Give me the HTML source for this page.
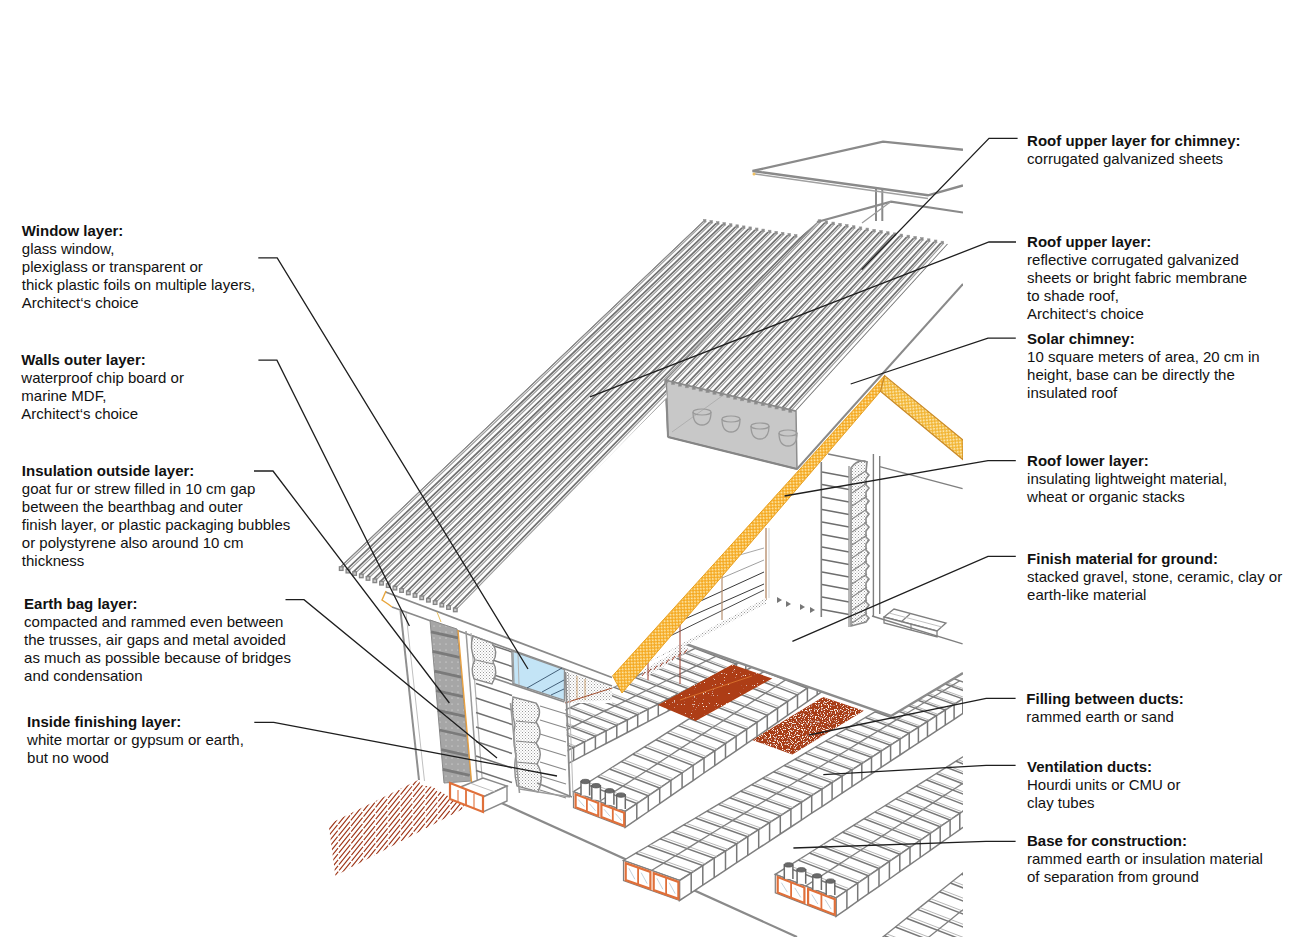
<!DOCTYPE html>
<html><head><meta charset="utf-8"><style>
html,body{margin:0;padding:0;background:#fff;width:1300px;height:950px;overflow:hidden;}
.t{position:absolute;font-family:"Liberation Sans",sans-serif;font-size:15px;line-height:18px;color:#111;white-space:nowrap;}
.t b{font-weight:bold;}
</style></head><body>
<svg width="1300" height="950" style="position:absolute;left:0;top:0"><defs>
<pattern id="hatch" patternUnits="userSpaceOnUse" width="6" height="6.1" patternTransform="rotate(-43)">
  <rect width="6" height="6.1" fill="#fff"/>
  <rect x="0" y="0" width="6" height="1.3" fill="#6c6c6c"/>
  <rect x="0" y="1.9" width="6" height="0.7" fill="#a8a8a8"/>
  <rect x="0" y="3.05" width="6" height="1.3" fill="#767676"/>
  <rect x="0" y="4.95" width="6" height="0.7" fill="#b0b0b0"/>
</pattern>
<pattern id="redhatch" patternUnits="userSpaceOnUse" width="4.4" height="6" patternTransform="rotate(-33)">
  <rect x="0" y="0" width="1.3" height="4.6" fill="#b4461e"/>
</pattern>
<pattern id="dots" patternUnits="userSpaceOnUse" width="4.4" height="4.4" patternTransform="rotate(-47)">
  <rect width="4.4" height="4.4" fill="#f5a820"/>
  <circle cx="1.1" cy="1.1" r="1.0" fill="#fde7a8"/>
  <circle cx="3.3" cy="3.3" r="1.0" fill="#fde7a8"/>
</pattern>
<pattern id="dots2" patternUnits="userSpaceOnUse" width="4.4" height="4.4" patternTransform="rotate(40)">
  <rect width="4.4" height="4.4" fill="#f2b432"/>
  <circle cx="1.1" cy="1.1" r="1.0" fill="#fce9b4"/>
  <circle cx="3.3" cy="3.3" r="1.0" fill="#fce9b4"/>
</pattern>
<pattern id="speck" patternUnits="userSpaceOnUse" width="4" height="4">
  <rect width="4" height="4" fill="#a83d18"/>
  <circle cx="1" cy="1" r="0.6" fill="#f3d2c0"/>
  <circle cx="3" cy="2.6" r="0.5" fill="#f3d2c0"/>
</pattern>
<pattern id="solidrust" patternUnits="userSpaceOnUse" width="9" height="9">
  <rect width="9" height="9" fill="#b0401a"/>
  <circle cx="2" cy="3" r="0.45" fill="#f2c9b0"/>
</pattern>
<pattern id="stip" patternUnits="userSpaceOnUse" width="3" height="3">
  <rect width="3" height="3" fill="#fff"/>
  <rect x="0" y="0" width="1" height="1" fill="#9a9a9a"/>
  <rect x="1.5" y="1.5" width="1" height="1" fill="#b0b0b0"/>
</pattern>
<pattern id="graycol" patternUnits="userSpaceOnUse" width="6" height="6">
  <rect width="6" height="6" fill="#a6a6a6"/>
  <circle cx="2" cy="2" r="0.6" fill="#e8e8e8"/>
</pattern>
<filter id="speckf" x="0" y="0" width="100%" height="100%" filterUnits="objectBoundingBox">
  <feTurbulence type="fractalNoise" baseFrequency="0.85" numOctaves="1" seed="3" result="n"/>
  <feColorMatrix in="n" type="matrix" values="0 0 0 0 1  0 0 0 0 0.93  0 0 0 0 0.85  0 0 0 9 -5.0" result="w"/>
  <feComposite in="w" in2="SourceGraphic" operator="in" result="wc"/>
  <feMerge><feMergeNode in="SourceGraphic"/><feMergeNode in="wc"/></feMerge>
</filter>
<filter id="speckf2" x="0" y="0" width="100%" height="100%" filterUnits="objectBoundingBox">
  <feTurbulence type="fractalNoise" baseFrequency="0.9" numOctaves="1" seed="7" result="n"/>
  <feColorMatrix in="n" type="matrix" values="0 0 0 0 1  0 0 0 0 0.9  0 0 0 0 0.8  0 0 0 14 -9.6" result="w"/>
  <feComposite in="w" in2="SourceGraphic" operator="in" result="wc"/>
  <feMerge><feMergeNode in="SourceGraphic"/><feMergeNode in="wc"/></feMerge>
</filter>
<clipPath id="drawclip"><rect x="0" y="0" width="963" height="937"/></clipPath>
</defs>
<g clip-path="url(#drawclip)">
<line x1="497.0" y1="801.0" x2="797.0" y2="937.0" stroke="#8a8a8a" stroke-width="2.2" />
<polygon points="862.4,953.4 924.4,977.4 935.4,968.6 946.4,959.8 957.4,951.0 968.4,942.2 979.4,933.4 990.4,924.6 1001.4,915.8 1012.4,907.0 1023.4,898.2 1034.4,889.4 1045.4,880.6 1056.4,871.8 994.4,847.8 983.4,856.6 972.4,865.4 961.4,874.2 950.4,883.0 939.4,891.8 928.4,900.6 917.4,909.4 906.4,918.2 895.4,927.0 884.4,935.8 873.4,944.6" fill="#fff" stroke="#7f7f7f" stroke-width="1.4" />
<polygon points="924.4,977.4 935.4,968.6 946.4,959.8 957.4,951.0 968.4,942.2 979.4,933.4 990.4,924.6 1001.4,915.8 1012.4,907.0 1023.4,898.2 1034.4,889.4 1045.4,880.6 1056.4,871.8 1056.4,888.8 1045.4,897.6 1034.4,906.4 1023.4,915.2 1012.4,924.0 1001.4,932.8 990.4,941.6 979.4,950.4 968.4,959.2 957.4,968.0 946.4,976.8 935.4,985.6 924.4,994.4" fill="#fff" stroke="#7f7f7f" stroke-width="1.5" />
<polyline points="873.4,944.6 935.4,968.6 935.4,985.6" fill="none" stroke="#787878" stroke-width="1.5" />
<line x1="875.8" y1="942.7" x2="937.8" y2="966.7" stroke="#b0b0b0" stroke-width="0.9" />
<polyline points="884.4,935.8 946.4,959.8 946.4,976.8" fill="none" stroke="#787878" stroke-width="1.5" />
<line x1="886.8" y1="933.9" x2="948.8" y2="957.9" stroke="#b0b0b0" stroke-width="0.9" />
<polyline points="895.4,927.0 957.4,951.0 957.4,968.0" fill="none" stroke="#787878" stroke-width="1.5" />
<line x1="897.8" y1="925.1" x2="959.8" y2="949.1" stroke="#b0b0b0" stroke-width="0.9" />
<polyline points="906.4,918.2 968.4,942.2 968.4,959.2" fill="none" stroke="#787878" stroke-width="1.5" />
<line x1="908.8" y1="916.3" x2="970.8" y2="940.3" stroke="#b0b0b0" stroke-width="0.9" />
<polyline points="917.4,909.4 979.4,933.4 979.4,950.4" fill="none" stroke="#787878" stroke-width="1.5" />
<line x1="919.8" y1="907.5" x2="981.8" y2="931.5" stroke="#b0b0b0" stroke-width="0.9" />
<polyline points="928.4,900.6 990.4,924.6 990.4,941.6" fill="none" stroke="#787878" stroke-width="1.5" />
<line x1="930.8" y1="898.7" x2="992.8" y2="922.7" stroke="#b0b0b0" stroke-width="0.9" />
<polyline points="939.4,891.8 1001.4,915.8 1001.4,932.8" fill="none" stroke="#787878" stroke-width="1.5" />
<line x1="941.8" y1="889.9" x2="1003.8" y2="913.9" stroke="#b0b0b0" stroke-width="0.9" />
<polyline points="950.4,883.0 1012.4,907.0 1012.4,924.0" fill="none" stroke="#787878" stroke-width="1.5" />
<line x1="952.8" y1="881.1" x2="1014.8" y2="905.1" stroke="#b0b0b0" stroke-width="0.9" />
<polyline points="961.4,874.2 1023.4,898.2 1023.4,915.2" fill="none" stroke="#787878" stroke-width="1.5" />
<line x1="963.8" y1="872.3" x2="1025.8" y2="896.3" stroke="#b0b0b0" stroke-width="0.9" />
<polyline points="972.4,865.4 1034.4,889.4 1034.4,906.4" fill="none" stroke="#787878" stroke-width="1.5" />
<line x1="974.8" y1="863.5" x2="1036.8" y2="887.5" stroke="#b0b0b0" stroke-width="0.9" />
<polyline points="983.4,856.6 1045.4,880.6 1045.4,897.6" fill="none" stroke="#787878" stroke-width="1.5" />
<line x1="985.8" y1="854.7" x2="1047.8" y2="878.7" stroke="#b0b0b0" stroke-width="0.9" />
<polyline points="893.4,965.4 904.4,956.6 915.4,947.8 926.4,939.0 937.4,930.2 948.4,921.4 959.4,912.6 970.4,903.8 981.4,895.0 992.4,886.2 1003.4,877.4 1014.4,868.6 1025.4,859.8" fill="none" stroke="#808080" stroke-width="1.3" />
<polygon points="775.3,874.4 836.0,897.9 846.9,890.5 857.7,883.1 868.4,875.8 879.0,868.6 889.4,861.4 899.8,854.3 910.0,847.3 920.2,840.4 930.3,833.5 940.2,826.7 950.1,820.0 959.8,813.3 969.5,806.7 979.1,800.2 988.5,793.7 997.9,787.3 1007.2,781.0 1016.4,774.7 1025.5,768.5 1034.5,762.3 984.8,743.1 975.3,749.1 965.7,755.1 956.0,761.2 946.2,767.3 936.3,773.5 926.3,779.8 916.2,786.1 906.0,792.5 895.7,798.9 885.3,805.5 874.8,812.0 864.2,818.7 853.5,825.4 842.6,832.2 831.7,839.1 820.6,846.0 809.5,853.0 798.2,860.1 786.8,867.2" fill="#fff" stroke="#7f7f7f" stroke-width="1.4" />
<polygon points="836.0,897.9 846.9,890.5 857.7,883.1 868.4,875.8 879.0,868.6 889.4,861.4 899.8,854.3 910.0,847.3 920.2,840.4 930.3,833.5 940.2,826.7 950.1,820.0 959.8,813.3 969.5,806.7 979.1,800.2 988.5,793.7 997.9,787.3 1007.2,781.0 1016.4,774.7 1025.5,768.5 1034.5,762.3 1034.5,777.5 1025.5,783.8 1016.4,790.1 1007.2,796.6 997.9,803.1 988.5,809.6 979.1,816.3 969.5,822.9 959.8,829.7 950.1,836.5 940.2,843.4 930.3,850.4 920.2,857.5 910.0,864.6 899.8,871.7 889.4,879.0 879.0,886.3 868.4,893.7 857.7,901.2 846.9,908.8 836.0,916.4" fill="#fff" stroke="#7f7f7f" stroke-width="1.5" />
<polygon points="775.3,874.4 836.0,897.9 836.0,916.4 775.3,892.9" fill="#fff" stroke="#7f7f7f" stroke-width="1.2" />
<polyline points="786.8,867.2 846.9,890.5 846.9,908.8" fill="none" stroke="#787878" stroke-width="1.5" />
<line x1="789.2" y1="865.5" x2="849.3" y2="888.8" stroke="#b0b0b0" stroke-width="0.9" />
<polyline points="798.2,860.1 857.7,883.1 857.7,901.2" fill="none" stroke="#787878" stroke-width="1.5" />
<line x1="800.5" y1="858.4" x2="860.0" y2="881.4" stroke="#b0b0b0" stroke-width="0.9" />
<polyline points="809.5,853.0 868.4,875.8 868.4,893.7" fill="none" stroke="#787878" stroke-width="1.5" />
<line x1="811.8" y1="851.4" x2="870.7" y2="874.2" stroke="#b0b0b0" stroke-width="0.9" />
<polyline points="820.6,846.0 879.0,868.6 879.0,886.3" fill="none" stroke="#787878" stroke-width="1.5" />
<line x1="822.9" y1="844.4" x2="881.3" y2="867.0" stroke="#b0b0b0" stroke-width="0.9" />
<polyline points="831.7,839.1 889.4,861.4 889.4,879.0" fill="none" stroke="#787878" stroke-width="1.5" />
<line x1="834.0" y1="837.5" x2="891.7" y2="859.8" stroke="#b0b0b0" stroke-width="0.9" />
<polyline points="842.6,832.2 899.8,854.3 899.8,871.7" fill="none" stroke="#787878" stroke-width="1.5" />
<line x1="844.9" y1="830.6" x2="902.0" y2="852.8" stroke="#b0b0b0" stroke-width="0.9" />
<polyline points="853.5,825.4 910.0,847.3 910.0,864.6" fill="none" stroke="#787878" stroke-width="1.5" />
<line x1="855.7" y1="823.9" x2="912.3" y2="845.8" stroke="#b0b0b0" stroke-width="0.9" />
<polyline points="864.2,818.7 920.2,840.4 920.2,857.5" fill="none" stroke="#787878" stroke-width="1.5" />
<line x1="866.4" y1="817.2" x2="922.4" y2="838.8" stroke="#b0b0b0" stroke-width="0.9" />
<polyline points="874.8,812.0 930.3,833.5 930.3,850.4" fill="none" stroke="#787878" stroke-width="1.5" />
<line x1="877.0" y1="810.5" x2="932.5" y2="832.0" stroke="#b0b0b0" stroke-width="0.9" />
<polyline points="885.3,805.5 940.2,826.7 940.2,843.4" fill="none" stroke="#787878" stroke-width="1.5" />
<line x1="887.5" y1="803.9" x2="942.4" y2="825.2" stroke="#b0b0b0" stroke-width="0.9" />
<polyline points="895.7,798.9 950.1,820.0 950.1,836.5" fill="none" stroke="#787878" stroke-width="1.5" />
<line x1="897.9" y1="797.4" x2="952.2" y2="818.5" stroke="#b0b0b0" stroke-width="0.9" />
<polyline points="906.0,792.5 959.8,813.3 959.8,829.7" fill="none" stroke="#787878" stroke-width="1.5" />
<line x1="908.2" y1="791.0" x2="962.0" y2="811.8" stroke="#b0b0b0" stroke-width="0.9" />
<polyline points="916.2,786.1 969.5,806.7 969.5,822.9" fill="none" stroke="#787878" stroke-width="1.5" />
<line x1="918.3" y1="784.6" x2="971.6" y2="805.2" stroke="#b0b0b0" stroke-width="0.9" />
<polyline points="926.3,779.8 979.1,800.2 979.1,816.3" fill="none" stroke="#787878" stroke-width="1.5" />
<line x1="928.4" y1="778.3" x2="981.2" y2="798.7" stroke="#b0b0b0" stroke-width="0.9" />
<polyline points="936.3,773.5 988.5,793.7 988.5,809.6" fill="none" stroke="#787878" stroke-width="1.5" />
<line x1="938.4" y1="772.1" x2="990.6" y2="792.3" stroke="#b0b0b0" stroke-width="0.9" />
<polyline points="946.2,767.3 997.9,787.3 997.9,803.1" fill="none" stroke="#787878" stroke-width="1.5" />
<line x1="948.3" y1="765.9" x2="1000.0" y2="785.9" stroke="#b0b0b0" stroke-width="0.9" />
<polyline points="956.0,761.2 1007.2,781.0 1007.2,796.6" fill="none" stroke="#787878" stroke-width="1.5" />
<line x1="958.0" y1="759.7" x2="1009.2" y2="779.6" stroke="#b0b0b0" stroke-width="0.9" />
<polyline points="965.7,755.1 1016.4,774.7 1016.4,790.1" fill="none" stroke="#787878" stroke-width="1.5" />
<line x1="967.7" y1="753.7" x2="1018.4" y2="773.3" stroke="#b0b0b0" stroke-width="0.9" />
<polyline points="975.3,749.1 1025.5,768.5 1025.5,783.8" fill="none" stroke="#787878" stroke-width="1.5" />
<line x1="977.3" y1="747.7" x2="1027.5" y2="767.1" stroke="#b0b0b0" stroke-width="0.9" />
<polyline points="805.6,886.1 816.9,878.8 827.9,871.6 838.9,864.4 849.8,857.3 860.6,850.2 871.2,843.3 881.8,836.4 892.2,829.5 902.5,822.8 912.8,816.1 922.9,809.5 932.9,802.9 942.9,796.4 952.7,790.0 962.4,783.6 972.1,777.3 981.6,771.1 991.1,764.9 1000.4,758.8 1009.7,752.7" fill="none" stroke="#808080" stroke-width="1.3" />
<polygon points="777.7,877.1 804.4,887.5 804.4,903.0 777.7,892.6" fill="none" stroke="#e0703a" stroke-width="2.2" />
<line x1="791.1" y1="882.3" x2="791.1" y2="897.8" stroke="#e0703a" stroke-width="1.8" />
<line x1="781.4" y1="882.7" x2="787.4" y2="892.2" stroke="#9ab0c0" stroke-width="0.6" />
<line x1="794.8" y1="887.9" x2="800.8" y2="897.4" stroke="#9ab0c0" stroke-width="0.6" />
<polygon points="808.1,888.9 834.8,899.2 834.8,914.7 808.1,904.4" fill="none" stroke="#e0703a" stroke-width="2.2" />
<line x1="821.4" y1="894.1" x2="821.4" y2="909.6" stroke="#e0703a" stroke-width="1.8" />
<line x1="811.8" y1="894.5" x2="817.8" y2="904.0" stroke="#9ab0c0" stroke-width="0.6" />
<line x1="825.1" y1="899.6" x2="831.1" y2="909.1" stroke="#9ab0c0" stroke-width="0.6" />
<path d="M784.3,878.9 V864.9 H792.9 V878.9" fill="#fff" stroke="#6a6a6a" stroke-width="1.5"/>
<ellipse cx="788.6" cy="864.9" rx="4.3" ry="2.2" fill="#6a6a6a" stroke="#555" stroke-width="0.8"/>
<path d="M797.1,883.8 V869.8 H805.7 V883.8" fill="#fff" stroke="#6a6a6a" stroke-width="1.5"/>
<ellipse cx="801.4" cy="869.8" rx="4.3" ry="2.2" fill="#6a6a6a" stroke="#555" stroke-width="0.8"/>
<path d="M812.8,889.9 V875.9 H821.4 V889.9" fill="#fff" stroke="#6a6a6a" stroke-width="1.5"/>
<ellipse cx="817.1" cy="875.9" rx="4.3" ry="2.2" fill="#6a6a6a" stroke="#555" stroke-width="0.8"/>
<path d="M826.2,895.1 V881.1 H834.8 V895.1" fill="#fff" stroke="#6a6a6a" stroke-width="1.5"/>
<ellipse cx="830.5" cy="881.1" rx="4.3" ry="2.2" fill="#6a6a6a" stroke="#555" stroke-width="0.8"/>
<polygon points="623.5,860.5 679.5,880.5 691.2,873.0 702.8,865.6 714.2,858.2 725.5,851.0 736.7,843.8 747.8,836.7 758.7,829.7 769.6,822.7 780.3,815.9 790.9,809.1 801.4,802.4 811.7,795.7 822.0,789.2 832.1,782.7 842.1,776.2 852.0,769.9 861.8,763.6 871.5,757.4 881.1,751.2 890.6,745.2 900.0,739.1 909.2,733.2 918.4,727.3 927.5,721.5 936.5,715.7 945.3,710.0 954.1,704.4 962.8,698.9 971.4,693.4 979.9,687.9 939.7,673.6 930.7,678.8 921.7,684.2 912.6,689.6 903.3,695.0 894.0,700.6 884.5,706.2 875.0,711.8 865.3,717.5 855.6,723.3 845.7,729.1 835.7,735.0 825.6,741.0 815.4,747.0 805.1,753.1 794.7,759.3 784.1,765.5 773.5,771.8 762.7,778.2 751.8,784.7 740.7,791.2 729.6,797.8 718.3,804.4 706.9,811.2 695.4,818.0 683.7,824.9 672.0,831.8 660.0,838.9 648.0,846.0 635.8,853.2" fill="#fff" stroke="#7f7f7f" stroke-width="1.4" />
<polygon points="679.5,880.5 691.2,873.0 702.8,865.6 714.2,858.2 725.5,851.0 736.7,843.8 747.8,836.7 758.7,829.7 769.6,822.7 780.3,815.9 790.9,809.1 801.4,802.4 811.7,795.7 822.0,789.2 832.1,782.7 842.1,776.2 852.0,769.9 861.8,763.6 871.5,757.4 881.1,751.2 890.6,745.2 900.0,739.1 909.2,733.2 918.4,727.3 927.5,721.5 936.5,715.7 945.3,710.0 954.1,704.4 962.8,698.9 971.4,693.4 979.9,687.9 979.9,702.3 971.4,707.9 962.8,713.5 954.1,719.3 945.3,725.1 936.5,730.9 927.5,736.8 918.4,742.8 909.2,748.9 900.0,755.0 890.6,761.2 881.1,767.4 871.5,773.8 861.8,780.2 852.0,786.6 842.1,793.2 832.1,799.8 822.0,806.5 811.7,813.2 801.4,820.1 790.9,827.0 780.3,834.0 769.6,841.1 758.7,848.2 747.8,855.4 736.7,862.7 725.5,870.1 714.2,877.6 702.8,885.1 691.2,892.8 679.5,900.5" fill="#fff" stroke="#7f7f7f" stroke-width="1.5" />
<polygon points="623.5,860.5 679.5,880.5 679.5,900.5 623.5,880.5" fill="#fff" stroke="#7f7f7f" stroke-width="1.2" />
<polyline points="635.8,853.2 691.2,873.0 691.2,892.8" fill="none" stroke="#787878" stroke-width="1.5" />
<line x1="638.4" y1="851.5" x2="693.7" y2="871.3" stroke="#b0b0b0" stroke-width="0.9" />
<polyline points="648.0,846.0 702.8,865.6 702.8,885.1" fill="none" stroke="#787878" stroke-width="1.5" />
<line x1="650.5" y1="844.4" x2="705.3" y2="863.9" stroke="#b0b0b0" stroke-width="0.9" />
<polyline points="660.0,838.9 714.2,858.2 714.2,877.6" fill="none" stroke="#787878" stroke-width="1.5" />
<line x1="662.5" y1="837.3" x2="716.7" y2="856.6" stroke="#b0b0b0" stroke-width="0.9" />
<polyline points="672.0,831.8 725.5,851.0 725.5,870.1" fill="none" stroke="#787878" stroke-width="1.5" />
<line x1="674.4" y1="830.2" x2="728.0" y2="849.4" stroke="#b0b0b0" stroke-width="0.9" />
<polyline points="683.7,824.9 736.7,843.8 736.7,862.7" fill="none" stroke="#787878" stroke-width="1.5" />
<line x1="686.2" y1="823.3" x2="739.2" y2="842.2" stroke="#b0b0b0" stroke-width="0.9" />
<polyline points="695.4,818.0 747.8,836.7 747.8,855.4" fill="none" stroke="#787878" stroke-width="1.5" />
<line x1="697.8" y1="816.4" x2="750.2" y2="835.1" stroke="#b0b0b0" stroke-width="0.9" />
<polyline points="706.9,811.2 758.7,829.7 758.7,848.2" fill="none" stroke="#787878" stroke-width="1.5" />
<line x1="709.3" y1="809.6" x2="761.1" y2="828.1" stroke="#b0b0b0" stroke-width="0.9" />
<polyline points="718.3,804.4 769.6,822.7 769.6,841.1" fill="none" stroke="#787878" stroke-width="1.5" />
<line x1="720.7" y1="802.9" x2="771.9" y2="821.2" stroke="#b0b0b0" stroke-width="0.9" />
<polyline points="729.6,797.8 780.3,815.9 780.3,834.0" fill="none" stroke="#787878" stroke-width="1.5" />
<line x1="731.9" y1="796.2" x2="782.6" y2="814.3" stroke="#b0b0b0" stroke-width="0.9" />
<polyline points="740.7,791.2 790.9,809.1 790.9,827.0" fill="none" stroke="#787878" stroke-width="1.5" />
<line x1="743.0" y1="789.7" x2="793.2" y2="807.6" stroke="#b0b0b0" stroke-width="0.9" />
<polyline points="751.8,784.7 801.4,802.4 801.4,820.1" fill="none" stroke="#787878" stroke-width="1.5" />
<line x1="754.0" y1="783.2" x2="803.6" y2="800.9" stroke="#b0b0b0" stroke-width="0.9" />
<polyline points="762.7,778.2 811.7,795.7 811.7,813.2" fill="none" stroke="#787878" stroke-width="1.5" />
<line x1="764.9" y1="776.7" x2="814.0" y2="794.2" stroke="#b0b0b0" stroke-width="0.9" />
<polyline points="773.5,771.8 822.0,789.2 822.0,806.5" fill="none" stroke="#787878" stroke-width="1.5" />
<line x1="775.7" y1="770.4" x2="824.2" y2="787.7" stroke="#b0b0b0" stroke-width="0.9" />
<polyline points="784.1,765.5 832.1,782.7 832.1,799.8" fill="none" stroke="#787878" stroke-width="1.5" />
<line x1="786.3" y1="764.1" x2="834.3" y2="781.2" stroke="#b0b0b0" stroke-width="0.9" />
<polyline points="794.7,759.3 842.1,776.2 842.1,793.2" fill="none" stroke="#787878" stroke-width="1.5" />
<line x1="796.9" y1="757.9" x2="844.3" y2="774.8" stroke="#b0b0b0" stroke-width="0.9" />
<polyline points="805.1,753.1 852.0,769.9 852.0,786.6" fill="none" stroke="#787878" stroke-width="1.5" />
<line x1="807.3" y1="751.7" x2="854.2" y2="768.5" stroke="#b0b0b0" stroke-width="0.9" />
<polyline points="815.4,747.0 861.8,763.6 861.8,780.2" fill="none" stroke="#787878" stroke-width="1.5" />
<line x1="817.6" y1="745.6" x2="864.0" y2="762.2" stroke="#b0b0b0" stroke-width="0.9" />
<polyline points="825.6,741.0 871.5,757.4 871.5,773.8" fill="none" stroke="#787878" stroke-width="1.5" />
<line x1="827.7" y1="739.6" x2="873.6" y2="756.0" stroke="#b0b0b0" stroke-width="0.9" />
<polyline points="835.7,735.0 881.1,751.2 881.1,767.4" fill="none" stroke="#787878" stroke-width="1.5" />
<line x1="837.8" y1="733.6" x2="883.2" y2="749.9" stroke="#b0b0b0" stroke-width="0.9" />
<polyline points="845.7,729.1 890.6,745.2 890.6,761.2" fill="none" stroke="#787878" stroke-width="1.5" />
<line x1="847.8" y1="727.8" x2="892.7" y2="743.8" stroke="#b0b0b0" stroke-width="0.9" />
<polyline points="855.6,723.3 900.0,739.1 900.0,755.0" fill="none" stroke="#787878" stroke-width="1.5" />
<line x1="857.6" y1="721.9" x2="902.0" y2="737.8" stroke="#b0b0b0" stroke-width="0.9" />
<polyline points="865.3,717.5 909.2,733.2 909.2,748.9" fill="none" stroke="#787878" stroke-width="1.5" />
<line x1="867.4" y1="716.2" x2="911.3" y2="731.9" stroke="#b0b0b0" stroke-width="0.9" />
<polyline points="875.0,711.8 918.4,727.3 918.4,742.8" fill="none" stroke="#787878" stroke-width="1.5" />
<line x1="877.0" y1="710.5" x2="920.4" y2="726.0" stroke="#b0b0b0" stroke-width="0.9" />
<polyline points="884.5,706.2 927.5,721.5 927.5,736.8" fill="none" stroke="#787878" stroke-width="1.5" />
<line x1="886.5" y1="704.9" x2="929.5" y2="720.2" stroke="#b0b0b0" stroke-width="0.9" />
<polyline points="894.0,700.6 936.5,715.7 936.5,730.9" fill="none" stroke="#787878" stroke-width="1.5" />
<line x1="895.9" y1="699.3" x2="938.4" y2="714.5" stroke="#b0b0b0" stroke-width="0.9" />
<polyline points="903.3,695.0 945.3,710.0 945.3,725.1" fill="none" stroke="#787878" stroke-width="1.5" />
<line x1="905.3" y1="693.8" x2="947.3" y2="708.8" stroke="#b0b0b0" stroke-width="0.9" />
<polyline points="912.6,689.6 954.1,704.4 954.1,719.3" fill="none" stroke="#787878" stroke-width="1.5" />
<line x1="914.5" y1="688.3" x2="956.0" y2="703.2" stroke="#b0b0b0" stroke-width="0.9" />
<polyline points="921.7,684.2 962.8,698.9 962.8,713.5" fill="none" stroke="#787878" stroke-width="1.5" />
<line x1="923.6" y1="682.9" x2="964.7" y2="697.6" stroke="#b0b0b0" stroke-width="0.9" />
<polyline points="930.7,678.8 971.4,693.4 971.4,707.9" fill="none" stroke="#787878" stroke-width="1.5" />
<line x1="932.6" y1="677.6" x2="973.2" y2="692.1" stroke="#b0b0b0" stroke-width="0.9" />
<polyline points="651.5,870.5 663.5,863.1 675.4,855.8 687.1,848.6 698.7,841.4 710.2,834.3 721.6,827.3 732.8,820.4 743.9,813.6 754.9,806.8 765.8,800.1 776.6,793.5 787.2,787.0 797.7,780.5 808.1,774.1 818.4,767.8 828.6,761.5 838.6,755.3 848.6,749.2 858.4,743.1 868.1,737.1 877.8,731.2 887.3,725.4 896.7,719.6 906.0,713.8 915.2,708.2 924.3,702.5 933.3,697.0 942.2,691.5 951.1,686.1 959.8,680.7" fill="none" stroke="#808080" stroke-width="1.3" />
<polygon points="625.7,863.1 650.4,871.9 650.4,888.9 625.7,880.1" fill="none" stroke="#e0703a" stroke-width="2.2" />
<line x1="638.1" y1="867.5" x2="638.1" y2="884.5" stroke="#e0703a" stroke-width="1.8" />
<line x1="628.9" y1="868.3" x2="634.9" y2="879.3" stroke="#9ab0c0" stroke-width="0.6" />
<line x1="641.2" y1="872.7" x2="647.2" y2="883.7" stroke="#9ab0c0" stroke-width="0.6" />
<polygon points="653.7,873.1 678.4,881.9 678.4,898.9 653.7,890.1" fill="none" stroke="#e0703a" stroke-width="2.2" />
<line x1="666.1" y1="877.5" x2="666.1" y2="894.5" stroke="#e0703a" stroke-width="1.8" />
<line x1="656.9" y1="878.3" x2="662.9" y2="889.3" stroke="#9ab0c0" stroke-width="0.6" />
<line x1="669.2" y1="882.7" x2="675.2" y2="893.7" stroke="#9ab0c0" stroke-width="0.6" />
<polygon points="573.5,791.7 625.2,811.4 636.8,803.6 648.3,795.8 659.7,788.1 670.9,780.5 682.1,773.0 693.1,765.5 704.0,758.1 714.8,750.8 725.5,743.6 736.1,736.4 746.6,729.3 757.0,722.3 767.3,715.3 777.5,708.4 787.5,701.6 797.5,694.9 807.4,688.2 817.2,681.6 826.8,675.0 836.4,668.6 845.9,662.2 855.3,655.8 864.6,649.5 873.8,643.3 882.9,637.1 891.9,631.0 900.9,625.0 909.7,619.0 918.5,613.1 927.1,607.2 888.9,592.6 879.9,598.4 870.7,604.1 861.5,610.0 852.1,615.9 842.7,621.8 833.2,627.8 823.6,633.9 813.9,640.0 804.1,646.2 794.1,652.5 784.1,658.8 774.0,665.2 763.8,671.6 753.5,678.1 743.1,684.7 732.5,691.3 721.9,698.0 711.2,704.8 700.3,711.7 689.4,718.6 678.3,725.6 667.1,732.6 655.8,739.8 644.4,746.9 632.9,754.2 621.2,761.6 609.5,769.0 597.6,776.5 585.6,784.1" fill="#fff" stroke="#7f7f7f" stroke-width="1.4" />
<polygon points="625.2,811.4 636.8,803.6 648.3,795.8 659.7,788.1 670.9,780.5 682.1,773.0 693.1,765.5 704.0,758.1 714.8,750.8 725.5,743.6 736.1,736.4 746.6,729.3 757.0,722.3 767.3,715.3 777.5,708.4 787.5,701.6 797.5,694.9 807.4,688.2 817.2,681.6 826.8,675.0 836.4,668.6 845.9,662.2 855.3,655.8 864.6,649.5 873.8,643.3 882.9,637.1 891.9,631.0 900.9,625.0 909.7,619.0 918.5,613.1 927.1,607.2 927.1,619.1 918.5,625.0 909.7,631.1 900.9,637.2 891.9,643.3 882.9,649.6 873.8,655.9 864.6,662.2 855.3,668.6 845.9,675.1 836.4,681.7 826.8,688.3 817.2,694.9 807.4,701.7 797.5,708.5 787.5,715.4 777.5,722.3 767.3,729.4 757.0,736.5 746.6,743.6 736.1,750.9 725.5,758.2 714.8,765.6 704.0,773.0 693.1,780.6 682.1,788.2 670.9,795.9 659.7,803.6 648.3,811.5 636.8,819.4 625.2,827.4" fill="#fff" stroke="#7f7f7f" stroke-width="1.5" />
<polygon points="573.5,791.7 625.2,811.4 625.2,827.4 573.5,807.7" fill="#fff" stroke="#7f7f7f" stroke-width="1.2" />
<polyline points="585.6,784.1 636.8,803.6 636.8,819.4" fill="none" stroke="#787878" stroke-width="1.5" />
<line x1="588.1" y1="782.3" x2="639.3" y2="801.8" stroke="#b0b0b0" stroke-width="0.9" />
<polyline points="597.6,776.5 648.3,795.8 648.3,811.5" fill="none" stroke="#787878" stroke-width="1.5" />
<line x1="600.1" y1="774.8" x2="650.8" y2="794.1" stroke="#b0b0b0" stroke-width="0.9" />
<polyline points="609.5,769.0 659.7,788.1 659.7,803.6" fill="none" stroke="#787878" stroke-width="1.5" />
<line x1="612.0" y1="767.3" x2="662.1" y2="786.4" stroke="#b0b0b0" stroke-width="0.9" />
<polyline points="621.2,761.6 670.9,780.5 670.9,795.9" fill="none" stroke="#787878" stroke-width="1.5" />
<line x1="623.7" y1="759.9" x2="673.4" y2="778.8" stroke="#b0b0b0" stroke-width="0.9" />
<polyline points="632.9,754.2 682.1,773.0 682.1,788.2" fill="none" stroke="#787878" stroke-width="1.5" />
<line x1="635.3" y1="752.5" x2="684.5" y2="771.3" stroke="#b0b0b0" stroke-width="0.9" />
<polyline points="644.4,746.9 693.1,765.5 693.1,780.6" fill="none" stroke="#787878" stroke-width="1.5" />
<line x1="646.8" y1="745.3" x2="695.5" y2="763.8" stroke="#b0b0b0" stroke-width="0.9" />
<polyline points="655.8,739.8 704.0,758.1 704.0,773.0" fill="none" stroke="#787878" stroke-width="1.5" />
<line x1="658.2" y1="738.1" x2="706.4" y2="756.5" stroke="#b0b0b0" stroke-width="0.9" />
<polyline points="667.1,732.6 714.8,750.8 714.8,765.6" fill="none" stroke="#787878" stroke-width="1.5" />
<line x1="669.5" y1="731.0" x2="717.2" y2="749.2" stroke="#b0b0b0" stroke-width="0.9" />
<polyline points="678.3,725.6 725.5,743.6 725.5,758.2" fill="none" stroke="#787878" stroke-width="1.5" />
<line x1="680.6" y1="724.0" x2="727.9" y2="742.0" stroke="#b0b0b0" stroke-width="0.9" />
<polyline points="689.4,718.6 736.1,736.4 736.1,750.9" fill="none" stroke="#787878" stroke-width="1.5" />
<line x1="691.7" y1="717.0" x2="738.4" y2="734.8" stroke="#b0b0b0" stroke-width="0.9" />
<polyline points="700.3,711.7 746.6,729.3 746.6,743.6" fill="none" stroke="#787878" stroke-width="1.5" />
<line x1="702.6" y1="710.1" x2="748.9" y2="727.7" stroke="#b0b0b0" stroke-width="0.9" />
<polyline points="711.2,704.8 757.0,722.3 757.0,736.5" fill="none" stroke="#787878" stroke-width="1.5" />
<line x1="713.4" y1="703.3" x2="759.3" y2="720.7" stroke="#b0b0b0" stroke-width="0.9" />
<polyline points="721.9,698.0 767.3,715.3 767.3,729.4" fill="none" stroke="#787878" stroke-width="1.5" />
<line x1="724.1" y1="696.5" x2="769.5" y2="713.8" stroke="#b0b0b0" stroke-width="0.9" />
<polyline points="732.5,691.3 777.5,708.4 777.5,722.3" fill="none" stroke="#787878" stroke-width="1.5" />
<line x1="734.8" y1="689.8" x2="779.7" y2="706.9" stroke="#b0b0b0" stroke-width="0.9" />
<polyline points="743.1,684.7 787.5,701.6 787.5,715.4" fill="none" stroke="#787878" stroke-width="1.5" />
<line x1="745.3" y1="683.2" x2="789.7" y2="700.1" stroke="#b0b0b0" stroke-width="0.9" />
<polyline points="753.5,678.1 797.5,694.9 797.5,708.5" fill="none" stroke="#787878" stroke-width="1.5" />
<line x1="755.7" y1="676.6" x2="799.7" y2="693.4" stroke="#b0b0b0" stroke-width="0.9" />
<polyline points="763.8,671.6 807.4,688.2 807.4,701.7" fill="none" stroke="#787878" stroke-width="1.5" />
<line x1="766.0" y1="670.1" x2="809.5" y2="686.7" stroke="#b0b0b0" stroke-width="0.9" />
<polyline points="774.0,665.2 817.2,681.6 817.2,694.9" fill="none" stroke="#787878" stroke-width="1.5" />
<line x1="776.1" y1="663.7" x2="819.3" y2="680.1" stroke="#b0b0b0" stroke-width="0.9" />
<polyline points="784.1,658.8 826.8,675.0 826.8,688.3" fill="none" stroke="#787878" stroke-width="1.5" />
<line x1="786.2" y1="657.3" x2="829.0" y2="673.6" stroke="#b0b0b0" stroke-width="0.9" />
<polyline points="794.1,652.5 836.4,668.6 836.4,681.7" fill="none" stroke="#787878" stroke-width="1.5" />
<line x1="796.2" y1="651.0" x2="838.5" y2="667.1" stroke="#b0b0b0" stroke-width="0.9" />
<polyline points="804.1,646.2 845.9,662.2 845.9,675.1" fill="none" stroke="#787878" stroke-width="1.5" />
<line x1="806.1" y1="644.8" x2="848.0" y2="660.7" stroke="#b0b0b0" stroke-width="0.9" />
<polyline points="813.9,640.0 855.3,655.8 855.3,668.6" fill="none" stroke="#787878" stroke-width="1.5" />
<line x1="815.9" y1="638.6" x2="857.4" y2="654.4" stroke="#b0b0b0" stroke-width="0.9" />
<polyline points="823.6,633.9 864.6,649.5 864.6,662.2" fill="none" stroke="#787878" stroke-width="1.5" />
<line x1="825.6" y1="632.5" x2="866.6" y2="648.1" stroke="#b0b0b0" stroke-width="0.9" />
<polyline points="833.2,627.8 873.8,643.3 873.8,655.9" fill="none" stroke="#787878" stroke-width="1.5" />
<line x1="835.2" y1="626.4" x2="875.8" y2="641.9" stroke="#b0b0b0" stroke-width="0.9" />
<polyline points="842.7,621.8 882.9,637.1 882.9,649.6" fill="none" stroke="#787878" stroke-width="1.5" />
<line x1="844.7" y1="620.4" x2="884.9" y2="635.8" stroke="#b0b0b0" stroke-width="0.9" />
<polyline points="852.1,615.9 891.9,631.0 891.9,643.3" fill="none" stroke="#787878" stroke-width="1.5" />
<line x1="854.1" y1="614.5" x2="893.9" y2="629.7" stroke="#b0b0b0" stroke-width="0.9" />
<polyline points="861.5,610.0 900.9,625.0 900.9,637.2" fill="none" stroke="#787878" stroke-width="1.5" />
<line x1="863.4" y1="608.6" x2="902.8" y2="623.6" stroke="#b0b0b0" stroke-width="0.9" />
<polyline points="870.7,604.1 909.7,619.0 909.7,631.1" fill="none" stroke="#787878" stroke-width="1.5" />
<line x1="872.6" y1="602.8" x2="911.7" y2="617.7" stroke="#b0b0b0" stroke-width="0.9" />
<polyline points="879.9,598.4 918.5,613.1 918.5,625.0" fill="none" stroke="#787878" stroke-width="1.5" />
<line x1="881.8" y1="597.0" x2="920.4" y2="611.8" stroke="#b0b0b0" stroke-width="0.9" />
<polyline points="599.4,801.5 611.2,793.8 622.9,786.1 634.6,778.5 646.1,771.0 657.5,763.6 668.7,756.2 679.9,748.9 691.0,741.7 701.9,734.6 712.7,727.5 723.5,720.5 734.1,713.5 744.6,706.7 755.0,699.9 765.3,693.2 775.5,686.5 785.6,679.9 795.6,673.4 805.5,666.9 815.3,660.5 825.0,654.2 834.6,647.9 844.1,641.7 853.5,635.5 862.8,629.5 872.0,623.4 881.2,617.5 890.2,611.6 899.2,605.7 908.0,599.9" fill="none" stroke="#808080" stroke-width="1.3" />
<polygon points="575.6,794.3 598.3,803.0 598.3,816.0 575.6,807.3" fill="none" stroke="#e0703a" stroke-width="2.2" />
<line x1="586.9" y1="798.6" x2="586.9" y2="811.6" stroke="#e0703a" stroke-width="1.8" />
<line x1="578.3" y1="799.5" x2="584.3" y2="806.5" stroke="#9ab0c0" stroke-width="0.6" />
<line x1="589.6" y1="803.8" x2="595.6" y2="810.8" stroke="#9ab0c0" stroke-width="0.6" />
<polygon points="601.4,804.1 624.2,812.8 624.2,825.8 601.4,817.1" fill="none" stroke="#e0703a" stroke-width="2.2" />
<line x1="612.8" y1="808.5" x2="612.8" y2="821.5" stroke="#e0703a" stroke-width="1.8" />
<line x1="604.1" y1="809.3" x2="610.1" y2="816.3" stroke="#9ab0c0" stroke-width="0.6" />
<line x1="615.5" y1="813.6" x2="621.5" y2="820.6" stroke="#9ab0c0" stroke-width="0.6" />
<path d="M581.0,795.5 V781.5 H589.6 V795.5" fill="#fff" stroke="#6a6a6a" stroke-width="1.5"/>
<ellipse cx="585.3" cy="781.5" rx="4.3" ry="2.2" fill="#6a6a6a" stroke="#555" stroke-width="0.8"/>
<path d="M591.8,799.7 V785.7 H600.4 V799.7" fill="#fff" stroke="#6a6a6a" stroke-width="1.5"/>
<ellipse cx="596.1" cy="785.7" rx="4.3" ry="2.2" fill="#6a6a6a" stroke="#555" stroke-width="0.8"/>
<path d="M605.3,804.8 V790.8 H613.9 V804.8" fill="#fff" stroke="#6a6a6a" stroke-width="1.5"/>
<ellipse cx="609.6" cy="790.8" rx="4.3" ry="2.2" fill="#6a6a6a" stroke="#555" stroke-width="0.8"/>
<path d="M616.7,809.1 V795.1 H625.3 V809.1" fill="#fff" stroke="#6a6a6a" stroke-width="1.5"/>
<ellipse cx="621.0" cy="795.1" rx="4.3" ry="2.2" fill="#6a6a6a" stroke="#555" stroke-width="0.8"/>
<polygon points="490.0,745.7 540.0,764.7 551.3,758.9 562.5,753.2 573.6,747.5 584.5,741.9 595.4,736.3 606.1,730.8 616.8,725.4 627.3,720.0 637.7,714.7 648.0,709.4 658.3,704.1 668.4,699.0 678.4,693.8 688.3,688.8 698.1,683.7 707.9,678.8 717.5,673.8 727.0,668.9 736.4,664.1 745.8,659.3 755.0,654.6 764.2,649.9 773.2,645.3 782.2,640.7 742.9,625.8 733.5,630.2 724.1,634.7 714.5,639.2 704.9,643.8 695.1,648.4 685.3,653.1 675.3,657.8 665.3,662.6 655.1,667.4 644.9,672.2 634.5,677.2 624.1,682.1 613.5,687.1 602.8,692.2 592.0,697.3 581.2,702.5 570.2,707.7 559.1,713.0 547.8,718.3 536.5,723.6 525.0,729.1 513.5,734.6 501.8,740.1" fill="#fff" stroke="#7f7f7f" stroke-width="1.4" />
<polygon points="540.0,764.7 551.3,758.9 562.5,753.2 573.6,747.5 584.5,741.9 595.4,736.3 606.1,730.8 616.8,725.4 627.3,720.0 637.7,714.7 648.0,709.4 658.3,704.1 668.4,699.0 678.4,693.8 688.3,688.8 698.1,683.7 707.9,678.8 717.5,673.8 727.0,668.9 736.4,664.1 745.8,659.3 755.0,654.6 764.2,649.9 773.2,645.3 782.2,640.7 782.2,651.3 773.2,656.0 764.2,660.7 755.0,665.5 745.8,670.4 736.4,675.3 727.0,680.2 717.5,685.2 707.9,690.2 698.1,695.3 688.3,700.5 678.4,705.7 668.4,710.9 658.3,716.2 648.0,721.6 637.7,727.0 627.3,732.5 616.8,738.0 606.1,743.5 595.4,749.2 584.5,754.9 573.6,760.6 562.5,766.4 551.3,772.3 540.0,778.2" fill="#fff" stroke="#7f7f7f" stroke-width="1.5" />
<polyline points="501.8,740.1 551.3,758.9 551.3,772.3" fill="none" stroke="#787878" stroke-width="1.5" />
<line x1="504.3" y1="738.8" x2="553.8" y2="757.6" stroke="#b0b0b0" stroke-width="0.9" />
<polyline points="513.5,734.6 562.5,753.2 562.5,766.4" fill="none" stroke="#787878" stroke-width="1.5" />
<line x1="515.9" y1="733.3" x2="564.9" y2="751.9" stroke="#b0b0b0" stroke-width="0.9" />
<polyline points="525.0,729.1 573.6,747.5 573.6,760.6" fill="none" stroke="#787878" stroke-width="1.5" />
<line x1="527.5" y1="727.8" x2="576.0" y2="746.3" stroke="#b0b0b0" stroke-width="0.9" />
<polyline points="536.5,723.6 584.5,741.9 584.5,754.9" fill="none" stroke="#787878" stroke-width="1.5" />
<line x1="538.9" y1="722.4" x2="586.9" y2="740.6" stroke="#b0b0b0" stroke-width="0.9" />
<polyline points="547.8,718.3 595.4,736.3 595.4,749.2" fill="none" stroke="#787878" stroke-width="1.5" />
<line x1="550.2" y1="717.0" x2="597.7" y2="735.1" stroke="#b0b0b0" stroke-width="0.9" />
<polyline points="559.1,713.0 606.1,730.8 606.1,743.5" fill="none" stroke="#787878" stroke-width="1.5" />
<line x1="561.4" y1="711.7" x2="608.5" y2="729.6" stroke="#b0b0b0" stroke-width="0.9" />
<polyline points="570.2,707.7 616.8,725.4 616.8,738.0" fill="none" stroke="#787878" stroke-width="1.5" />
<line x1="572.5" y1="706.5" x2="619.1" y2="724.2" stroke="#b0b0b0" stroke-width="0.9" />
<polyline points="581.2,702.5 627.3,720.0 627.3,732.5" fill="none" stroke="#787878" stroke-width="1.5" />
<line x1="583.5" y1="701.3" x2="629.6" y2="718.8" stroke="#b0b0b0" stroke-width="0.9" />
<polyline points="592.0,697.3 637.7,714.7 637.7,727.0" fill="none" stroke="#787878" stroke-width="1.5" />
<line x1="594.3" y1="696.1" x2="640.0" y2="713.5" stroke="#b0b0b0" stroke-width="0.9" />
<polyline points="602.8,692.2 648.0,709.4 648.0,721.6" fill="none" stroke="#787878" stroke-width="1.5" />
<line x1="605.1" y1="691.0" x2="650.3" y2="708.2" stroke="#b0b0b0" stroke-width="0.9" />
<polyline points="613.5,687.1 658.3,704.1 658.3,716.2" fill="none" stroke="#787878" stroke-width="1.5" />
<line x1="615.7" y1="686.0" x2="660.5" y2="703.0" stroke="#b0b0b0" stroke-width="0.9" />
<polyline points="624.1,682.1 668.4,699.0 668.4,710.9" fill="none" stroke="#787878" stroke-width="1.5" />
<line x1="626.3" y1="681.0" x2="670.6" y2="697.8" stroke="#b0b0b0" stroke-width="0.9" />
<polyline points="634.5,677.2 678.4,693.8 678.4,705.7" fill="none" stroke="#787878" stroke-width="1.5" />
<line x1="636.7" y1="676.0" x2="680.6" y2="692.7" stroke="#b0b0b0" stroke-width="0.9" />
<polyline points="644.9,672.2 688.3,688.8 688.3,700.5" fill="none" stroke="#787878" stroke-width="1.5" />
<line x1="647.0" y1="671.1" x2="690.5" y2="687.6" stroke="#b0b0b0" stroke-width="0.9" />
<polyline points="655.1,667.4 698.1,683.7 698.1,695.3" fill="none" stroke="#787878" stroke-width="1.5" />
<line x1="657.3" y1="666.3" x2="700.3" y2="682.6" stroke="#b0b0b0" stroke-width="0.9" />
<polyline points="665.3,662.6 707.9,678.8 707.9,690.2" fill="none" stroke="#787878" stroke-width="1.5" />
<line x1="667.4" y1="661.5" x2="710.0" y2="677.6" stroke="#b0b0b0" stroke-width="0.9" />
<polyline points="675.3,657.8 717.5,673.8 717.5,685.2" fill="none" stroke="#787878" stroke-width="1.5" />
<line x1="677.4" y1="656.7" x2="719.6" y2="672.7" stroke="#b0b0b0" stroke-width="0.9" />
<polyline points="685.3,653.1 727.0,668.9 727.0,680.2" fill="none" stroke="#787878" stroke-width="1.5" />
<line x1="687.3" y1="652.0" x2="729.1" y2="667.9" stroke="#b0b0b0" stroke-width="0.9" />
<polyline points="695.1,648.4 736.4,664.1 736.4,675.3" fill="none" stroke="#787878" stroke-width="1.5" />
<line x1="697.2" y1="647.3" x2="738.5" y2="663.0" stroke="#b0b0b0" stroke-width="0.9" />
<polyline points="704.9,643.8 745.8,659.3 745.8,670.4" fill="none" stroke="#787878" stroke-width="1.5" />
<line x1="706.9" y1="642.7" x2="747.8" y2="658.3" stroke="#b0b0b0" stroke-width="0.9" />
<polyline points="714.5,639.2 755.0,654.6 755.0,665.5" fill="none" stroke="#787878" stroke-width="1.5" />
<line x1="716.5" y1="638.2" x2="757.0" y2="653.5" stroke="#b0b0b0" stroke-width="0.9" />
<polyline points="724.1,634.7 764.2,649.9 764.2,660.7" fill="none" stroke="#787878" stroke-width="1.5" />
<line x1="726.1" y1="633.6" x2="766.2" y2="648.9" stroke="#b0b0b0" stroke-width="0.9" />
<polyline points="733.5,630.2 773.2,645.3 773.2,656.0" fill="none" stroke="#787878" stroke-width="1.5" />
<line x1="735.5" y1="629.2" x2="775.2" y2="644.2" stroke="#b0b0b0" stroke-width="0.9" />
<polyline points="515.0,755.2 526.5,749.5 538.0,743.9 549.3,738.3 560.5,732.8 571.6,727.3 582.6,721.9 593.5,716.5 604.2,711.2 614.9,706.0 625.4,700.8 635.9,695.6 646.2,690.5 656.5,685.5 666.6,680.5 676.6,675.6 686.6,670.7 696.4,665.8 706.1,661.0 715.8,656.3 725.3,651.6 734.8,646.9 744.1,642.3 753.4,637.7 762.5,633.2" fill="none" stroke="#808080" stroke-width="1.3" />
<polygon points="657.8,705.0 695.6,721.0 772.3,678.5 732.3,664.6" fill="#ad3c12" stroke="none" stroke-width="1.0" filter="url(#speckf2)"/>
<line x1="680.0" y1="700.0" x2="752.0" y2="676.0" stroke="#e07a30" stroke-width="0.8" />
<polygon points="752.3,740.0 792.3,754.6 863.8,710.8 823.0,697.0" fill="#a83d18" stroke="none" stroke-width="1.0" filter="url(#speckf)"/>
<polygon points="683.0,643.0 891.0,716.0 963.0,674.0 963.0,450.0 767.0,520.0 767.0,600.0" fill="#fff" stroke="none" stroke-width="1.0" />
<polyline points="683.0,643.0 891.0,716.0 963.0,673.0" fill="none" stroke="#8c8c8c" stroke-width="2.4" />
<polygon points="884.0,617.0 894.0,609.0 946.0,623.0 937.0,631.0" fill="#fff" stroke="#7f7f7f" stroke-width="1.3" />
<polygon points="884.0,617.0 937.0,631.0 937.0,637.0 884.0,623.0" fill="#fff" stroke="#7f7f7f" stroke-width="1.3" />
<line x1="910.0" y1="614.0" x2="901.0" y2="622.0" stroke="#7f7f7f" stroke-width="1.2" />
<line x1="911.0" y1="624.0" x2="911.0" y2="630.0" stroke="#7f7f7f" stroke-width="1.1" />
<line x1="889.0" y1="613.0" x2="942.0" y2="627.0" stroke="#b0b0b0" stroke-width="0.8" />
<clipPath id="rhclip"><polygon points="419.7,779.2 466.5,806.9 335.4,875.8 328.6,824.2"/></clipPath>
<g clip-path="url(#rhclip)">
<line x1="276.9" y1="893.9" x2="387.0" y2="757.9" stroke="#a0381a" stroke-width="1.15" stroke-dasharray="18 1.5" stroke-dashoffset="0.0"/>
<line x1="281.7" y1="893.9" x2="391.8" y2="757.9" stroke="#a0381a" stroke-width="1.15" stroke-dasharray="18 1.5" stroke-dashoffset="7.3"/>
<line x1="286.5" y1="893.9" x2="396.6" y2="757.9" stroke="#a0381a" stroke-width="1.15" stroke-dasharray="18 1.5" stroke-dashoffset="14.6"/>
<line x1="291.3" y1="893.9" x2="401.4" y2="757.9" stroke="#a0381a" stroke-width="1.15" stroke-dasharray="18 1.5" stroke-dashoffset="2.9"/>
<line x1="296.1" y1="893.9" x2="406.2" y2="757.9" stroke="#a0381a" stroke-width="1.15" stroke-dasharray="18 1.5" stroke-dashoffset="10.2"/>
<line x1="300.9" y1="893.9" x2="411.0" y2="757.9" stroke="#a0381a" stroke-width="1.15" stroke-dasharray="18 1.5" stroke-dashoffset="17.5"/>
<line x1="305.7" y1="893.9" x2="415.8" y2="757.9" stroke="#a0381a" stroke-width="1.15" stroke-dasharray="18 1.5" stroke-dashoffset="5.8"/>
<line x1="310.5" y1="893.9" x2="420.6" y2="757.9" stroke="#a0381a" stroke-width="1.15" stroke-dasharray="18 1.5" stroke-dashoffset="13.1"/>
<line x1="315.3" y1="893.9" x2="425.4" y2="757.9" stroke="#a0381a" stroke-width="1.15" stroke-dasharray="18 1.5" stroke-dashoffset="1.4"/>
<line x1="320.1" y1="893.9" x2="430.2" y2="757.9" stroke="#a0381a" stroke-width="1.15" stroke-dasharray="18 1.5" stroke-dashoffset="8.7"/>
<line x1="324.9" y1="893.9" x2="435.0" y2="757.9" stroke="#a0381a" stroke-width="1.15" stroke-dasharray="18 1.5" stroke-dashoffset="16.0"/>
<line x1="329.7" y1="893.9" x2="439.8" y2="757.9" stroke="#a0381a" stroke-width="1.15" stroke-dasharray="18 1.5" stroke-dashoffset="4.3"/>
<line x1="334.5" y1="893.9" x2="444.6" y2="757.9" stroke="#a0381a" stroke-width="1.15" stroke-dasharray="18 1.5" stroke-dashoffset="11.6"/>
<line x1="339.3" y1="893.9" x2="449.4" y2="757.9" stroke="#a0381a" stroke-width="1.15" stroke-dasharray="18 1.5" stroke-dashoffset="18.9"/>
<line x1="344.1" y1="893.9" x2="454.2" y2="757.9" stroke="#a0381a" stroke-width="1.15" stroke-dasharray="18 1.5" stroke-dashoffset="7.2"/>
<line x1="348.9" y1="893.9" x2="459.0" y2="757.9" stroke="#a0381a" stroke-width="1.15" stroke-dasharray="18 1.5" stroke-dashoffset="14.5"/>
<line x1="353.7" y1="893.9" x2="463.8" y2="757.9" stroke="#a0381a" stroke-width="1.15" stroke-dasharray="18 1.5" stroke-dashoffset="2.8"/>
<line x1="358.5" y1="893.9" x2="468.6" y2="757.9" stroke="#a0381a" stroke-width="1.15" stroke-dasharray="18 1.5" stroke-dashoffset="10.1"/>
<line x1="363.3" y1="893.9" x2="473.4" y2="757.9" stroke="#a0381a" stroke-width="1.15" stroke-dasharray="18 1.5" stroke-dashoffset="17.4"/>
<line x1="368.1" y1="893.9" x2="478.2" y2="757.9" stroke="#a0381a" stroke-width="1.15" stroke-dasharray="18 1.5" stroke-dashoffset="5.7"/>
<line x1="372.9" y1="893.9" x2="483.0" y2="757.9" stroke="#a0381a" stroke-width="1.15" stroke-dasharray="18 1.5" stroke-dashoffset="13.0"/>
<line x1="377.7" y1="893.9" x2="487.8" y2="757.9" stroke="#a0381a" stroke-width="1.15" stroke-dasharray="18 1.5" stroke-dashoffset="1.3"/>
<line x1="382.5" y1="893.9" x2="492.6" y2="757.9" stroke="#a0381a" stroke-width="1.15" stroke-dasharray="18 1.5" stroke-dashoffset="8.6"/>
<line x1="387.3" y1="893.9" x2="497.4" y2="757.9" stroke="#a0381a" stroke-width="1.15" stroke-dasharray="18 1.5" stroke-dashoffset="15.9"/>
<line x1="392.1" y1="893.9" x2="502.2" y2="757.9" stroke="#a0381a" stroke-width="1.15" stroke-dasharray="18 1.5" stroke-dashoffset="4.2"/>
<line x1="396.9" y1="893.9" x2="507.0" y2="757.9" stroke="#a0381a" stroke-width="1.15" stroke-dasharray="18 1.5" stroke-dashoffset="11.5"/>
<line x1="401.7" y1="893.9" x2="511.8" y2="757.9" stroke="#a0381a" stroke-width="1.15" stroke-dasharray="18 1.5" stroke-dashoffset="18.8"/>
<line x1="406.5" y1="893.9" x2="516.6" y2="757.9" stroke="#a0381a" stroke-width="1.15" stroke-dasharray="18 1.5" stroke-dashoffset="7.1"/>
<line x1="411.3" y1="893.9" x2="521.4" y2="757.9" stroke="#a0381a" stroke-width="1.15" stroke-dasharray="18 1.5" stroke-dashoffset="14.4"/>
<line x1="416.1" y1="893.9" x2="526.2" y2="757.9" stroke="#a0381a" stroke-width="1.15" stroke-dasharray="18 1.5" stroke-dashoffset="2.7"/>
<line x1="420.9" y1="893.9" x2="531.0" y2="757.9" stroke="#a0381a" stroke-width="1.15" stroke-dasharray="18 1.5" stroke-dashoffset="10.0"/>
<line x1="425.7" y1="893.9" x2="535.8" y2="757.9" stroke="#a0381a" stroke-width="1.15" stroke-dasharray="18 1.5" stroke-dashoffset="17.3"/>
<line x1="430.5" y1="893.9" x2="540.6" y2="757.9" stroke="#a0381a" stroke-width="1.15" stroke-dasharray="18 1.5" stroke-dashoffset="5.6"/>
<line x1="435.3" y1="893.9" x2="545.4" y2="757.9" stroke="#a0381a" stroke-width="1.15" stroke-dasharray="18 1.5" stroke-dashoffset="12.9"/>
<line x1="440.1" y1="893.9" x2="550.2" y2="757.9" stroke="#a0381a" stroke-width="1.15" stroke-dasharray="18 1.5" stroke-dashoffset="1.2"/>
<line x1="444.9" y1="893.9" x2="555.0" y2="757.9" stroke="#a0381a" stroke-width="1.15" stroke-dasharray="18 1.5" stroke-dashoffset="8.5"/>
<line x1="449.7" y1="893.9" x2="559.8" y2="757.9" stroke="#a0381a" stroke-width="1.15" stroke-dasharray="18 1.5" stroke-dashoffset="15.8"/>
<line x1="454.5" y1="893.9" x2="564.6" y2="757.9" stroke="#a0381a" stroke-width="1.15" stroke-dasharray="18 1.5" stroke-dashoffset="4.1"/>
<line x1="459.3" y1="893.9" x2="569.4" y2="757.9" stroke="#a0381a" stroke-width="1.15" stroke-dasharray="18 1.5" stroke-dashoffset="11.4"/>
<line x1="464.1" y1="893.9" x2="574.2" y2="757.9" stroke="#a0381a" stroke-width="1.15" stroke-dasharray="18 1.5" stroke-dashoffset="18.7"/>
<line x1="468.9" y1="893.9" x2="579.0" y2="757.9" stroke="#a0381a" stroke-width="1.15" stroke-dasharray="18 1.5" stroke-dashoffset="7.0"/>
<line x1="473.7" y1="893.9" x2="583.8" y2="757.9" stroke="#a0381a" stroke-width="1.15" stroke-dasharray="18 1.5" stroke-dashoffset="14.3"/>
<line x1="478.5" y1="893.9" x2="588.6" y2="757.9" stroke="#a0381a" stroke-width="1.15" stroke-dasharray="18 1.5" stroke-dashoffset="2.6"/>
<line x1="483.3" y1="893.9" x2="593.4" y2="757.9" stroke="#a0381a" stroke-width="1.15" stroke-dasharray="18 1.5" stroke-dashoffset="9.9"/>
<line x1="488.1" y1="893.9" x2="598.2" y2="757.9" stroke="#a0381a" stroke-width="1.15" stroke-dasharray="18 1.5" stroke-dashoffset="17.2"/>
<line x1="492.9" y1="893.9" x2="603.0" y2="757.9" stroke="#a0381a" stroke-width="1.15" stroke-dasharray="18 1.5" stroke-dashoffset="5.5"/>
<line x1="497.7" y1="893.9" x2="607.8" y2="757.9" stroke="#a0381a" stroke-width="1.15" stroke-dasharray="18 1.5" stroke-dashoffset="12.8"/>
<line x1="502.5" y1="893.9" x2="612.6" y2="757.9" stroke="#a0381a" stroke-width="1.15" stroke-dasharray="18 1.5" stroke-dashoffset="1.1"/>
<line x1="507.3" y1="893.9" x2="617.4" y2="757.9" stroke="#a0381a" stroke-width="1.15" stroke-dasharray="18 1.5" stroke-dashoffset="8.4"/>
<line x1="512.1" y1="893.9" x2="622.2" y2="757.9" stroke="#a0381a" stroke-width="1.15" stroke-dasharray="18 1.5" stroke-dashoffset="15.7"/>
</g>
<polygon points="821.0,462.0 850.0,463.0 850.0,623.0 821.0,617.0" fill="#fff" stroke="none" stroke-width="1.0" />
<line x1="821.3" y1="462.0" x2="821.3" y2="617.0" stroke="#7f7f7f" stroke-width="1.6" />
<line x1="828.0" y1="454.0" x2="867.6" y2="462.0" stroke="#7f7f7f" stroke-width="1.3" />
<line x1="822.0" y1="472.0" x2="849.0" y2="477.0" stroke="#6e6e6e" stroke-width="1.5" />
<line x1="822.0" y1="484.5" x2="849.0" y2="489.5" stroke="#6e6e6e" stroke-width="1.5" />
<line x1="822.0" y1="497.0" x2="849.0" y2="502.0" stroke="#6e6e6e" stroke-width="1.5" />
<line x1="822.0" y1="509.5" x2="849.0" y2="514.5" stroke="#6e6e6e" stroke-width="1.5" />
<line x1="822.0" y1="522.0" x2="849.0" y2="527.0" stroke="#6e6e6e" stroke-width="1.5" />
<line x1="822.0" y1="534.5" x2="849.0" y2="539.5" stroke="#6e6e6e" stroke-width="1.5" />
<line x1="822.0" y1="547.0" x2="849.0" y2="552.0" stroke="#6e6e6e" stroke-width="1.5" />
<line x1="822.0" y1="559.5" x2="849.0" y2="564.5" stroke="#6e6e6e" stroke-width="1.5" />
<line x1="822.0" y1="572.0" x2="849.0" y2="577.0" stroke="#6e6e6e" stroke-width="1.5" />
<line x1="822.0" y1="584.5" x2="849.0" y2="589.5" stroke="#6e6e6e" stroke-width="1.5" />
<line x1="822.0" y1="597.0" x2="849.0" y2="602.0" stroke="#6e6e6e" stroke-width="1.5" />
<line x1="822.0" y1="609.5" x2="849.0" y2="614.5" stroke="#6e6e6e" stroke-width="1.5" />
<path d="M851,468 Q858,458 867,462 L866,472 L869,475 L866,479 L866,485 L869,488 L866,492 L866,498 L869,501 L866,505 L866,511 L869,514 L866,518 L866,524 L869,527 L866,531 L866,537 L869,540 L866,544 L866,550 L869,553 L866,557 L866,563 L869,566 L866,570 L866,576 L869,579 L866,583 L866,589 L869,592 L866,596 L866,602 L869,605 L866,609 L866,615 L869,618 L866,622 L866,622 L851,626 Z" fill="url(#stip)" stroke="#8a8a8a" stroke-width="1.6"/>
<polyline points="852.0,480.0 867.0,470.0" fill="none" stroke="#8a8a8a" stroke-width="1.2" />
<polyline points="852.0,493.0 867.0,483.0" fill="none" stroke="#8a8a8a" stroke-width="1.2" />
<polyline points="852.0,506.0 867.0,496.0" fill="none" stroke="#8a8a8a" stroke-width="1.2" />
<polyline points="852.0,519.0 867.0,509.0" fill="none" stroke="#8a8a8a" stroke-width="1.2" />
<polyline points="852.0,532.0 867.0,522.0" fill="none" stroke="#8a8a8a" stroke-width="1.2" />
<polyline points="852.0,545.0 867.0,535.0" fill="none" stroke="#8a8a8a" stroke-width="1.2" />
<polyline points="852.0,558.0 867.0,548.0" fill="none" stroke="#8a8a8a" stroke-width="1.2" />
<polyline points="852.0,571.0 867.0,561.0" fill="none" stroke="#8a8a8a" stroke-width="1.2" />
<polyline points="852.0,584.0 867.0,574.0" fill="none" stroke="#8a8a8a" stroke-width="1.2" />
<polyline points="852.0,597.0 867.0,587.0" fill="none" stroke="#8a8a8a" stroke-width="1.2" />
<polyline points="852.0,610.0 867.0,600.0" fill="none" stroke="#8a8a8a" stroke-width="1.2" />
<polyline points="852.0,623.0 867.0,613.0" fill="none" stroke="#8a8a8a" stroke-width="1.2" />
<line x1="849.0" y1="466.0" x2="849.0" y2="627.0" stroke="#9a9a9a" stroke-width="1.4" />
<line x1="873.4" y1="454.0" x2="873.4" y2="616.0" stroke="#7f7f7f" stroke-width="1.4" />
<line x1="879.7" y1="456.0" x2="879.7" y2="614.0" stroke="#7f7f7f" stroke-width="1.4" />
<line x1="879.7" y1="466.6" x2="962.6" y2="488.6" stroke="#7f7f7f" stroke-width="1.4" />
<line x1="872.0" y1="616.0" x2="962.6" y2="643.8" stroke="#7f7f7f" stroke-width="1.4" />
<polygon points="777.0,597.0 782.0,600.0 777.0,603.0" fill="#777" stroke="none" stroke-width="1.0" />
<polygon points="786.0,601.0 791.0,604.0 786.0,607.0" fill="#777" stroke="none" stroke-width="1.0" />
<polygon points="800.0,604.0 805.0,607.0 800.0,610.0" fill="#777" stroke="none" stroke-width="1.0" />
<polygon points="810.0,607.0 815.0,610.0 810.0,613.0" fill="#777" stroke="none" stroke-width="1.0" />
<polygon points="612.0,688.0 770.0,520.0 770.0,600.0 684.0,646.0" fill="#fff" stroke="none" stroke-width="1.0" />
<line x1="766.0" y1="528.0" x2="766.0" y2="600.0" stroke="#b89070" stroke-width="1.4" />
<line x1="769.0" y1="528.0" x2="769.0" y2="598.0" stroke="#cfcfcf" stroke-width="1" />
<line x1="722.0" y1="560.0" x2="764.0" y2="548.0" stroke="#909090" stroke-width="0.8" />
<line x1="722.0" y1="578.0" x2="764.0" y2="560.0" stroke="#888" stroke-width="0.8" />
<line x1="694.0" y1="604.0" x2="764.0" y2="572.0" stroke="#222" stroke-width="0.9" />
<line x1="678.0" y1="622.0" x2="764.0" y2="584.0" stroke="#222" stroke-width="0.9" />
<line x1="666.0" y1="638.0" x2="764.0" y2="590.0" stroke="#333" stroke-width="0.9" />
<polygon points="648.0,662.0 766.0,598.0 766.0,604.0 684.0,646.0" fill="url(#stip)" stroke="none" stroke-width="1.0" />
<polygon points="640.0,672.0 684.0,646.0 690.0,650.0 648.0,676.0" fill="url(#stip)" stroke="none" stroke-width="1.0" />
<line x1="722.0" y1="576.0" x2="722.0" y2="620.0" stroke="#b89070" stroke-width="1.2" />
<line x1="680.0" y1="624.0" x2="680.0" y2="684.0" stroke="#9a3a2a" stroke-width="1" />
<line x1="648.0" y1="658.0" x2="648.0" y2="680.0" stroke="#9a3a2a" stroke-width="1" />
<line x1="642.0" y1="676.0" x2="645.0" y2="672.0" stroke="#a0402a" stroke-width="1" />
<line x1="648.0" y1="672.8" x2="651.0" y2="668.8" stroke="#a0402a" stroke-width="1" />
<line x1="654.0" y1="669.6" x2="657.0" y2="665.6" stroke="#a0402a" stroke-width="1" />
<line x1="660.0" y1="666.4" x2="663.0" y2="662.4" stroke="#a0402a" stroke-width="1" />
<line x1="666.0" y1="663.2" x2="669.0" y2="659.2" stroke="#a0402a" stroke-width="1" />
<line x1="672.0" y1="660.0" x2="675.0" y2="656.0" stroke="#a0402a" stroke-width="1" />
<line x1="678.0" y1="656.8" x2="681.0" y2="652.8" stroke="#a0402a" stroke-width="1" />
<line x1="684.0" y1="653.6" x2="687.0" y2="649.6" stroke="#a0402a" stroke-width="1" />
<polygon points="458.0,611.0 668.0,436.0 797.0,468.0 963.0,284.0 963.0,442.0 881.0,378.0 612.0,688.0" fill="#fff" stroke="none" stroke-width="1.0" />
<line x1="963.0" y1="284.0" x2="797.0" y2="469.0" stroke="#8a8a8a" stroke-width="2.0" />
<polygon points="884.6,375.6 880.5,391.3 622.0,693.0 612.6,675.8" fill="url(#dots)" stroke="#e8a020" stroke-width="1" />
<polygon points="884.6,375.6 963.0,440.0 963.0,459.6 880.5,391.3" fill="url(#dots2)" stroke="#c98a28" stroke-width="1.2" />
<polygon points="665.0,380.0 796.0,411.0 797.0,469.0 668.0,437.0" fill="#c8c8c8" stroke="#8d8d8d" stroke-width="1.5" />
<line x1="668.0" y1="437.0" x2="797.0" y2="469.0" stroke="#858585" stroke-width="2.2" />
<line x1="666.0" y1="380.0" x2="668.0" y2="437.0" stroke="#8a8a8a" stroke-width="2.0" />
<line x1="672.0" y1="432.0" x2="722.0" y2="396.0" stroke="#a8a8a8" stroke-width="0.8" />
<path d="M693,412 Q693,425 702,425 Q711,425 711,412" fill="none" stroke="#9a9a9a" stroke-width="1.3"/>
<ellipse cx="702" cy="412" rx="9" ry="3" fill="none" stroke="#9a9a9a" stroke-width="1.2"/>
<path d="M722,419 Q722,432 731,432 Q740,432 740,419" fill="none" stroke="#9a9a9a" stroke-width="1.3"/>
<ellipse cx="731" cy="419" rx="9" ry="3" fill="none" stroke="#9a9a9a" stroke-width="1.2"/>
<path d="M751,426 Q751,439 760,439 Q769,439 769,426" fill="none" stroke="#9a9a9a" stroke-width="1.3"/>
<ellipse cx="760" cy="426" rx="9" ry="3" fill="none" stroke="#9a9a9a" stroke-width="1.2"/>
<path d="M779,433 Q779,446 788,446 Q797,446 797,433" fill="none" stroke="#9a9a9a" stroke-width="1.3"/>
<ellipse cx="788" cy="433" rx="9" ry="3" fill="none" stroke="#9a9a9a" stroke-width="1.2"/>
<clipPath id="roofclip"><polygon points="340.0,567.0 703.5,221.0 800.0,237.0 818.3,221.3 665.0,380.0 667.0,398.0 457.4,609.5"/></clipPath>
<polygon points="340.0,567.0 703.5,221.0 800.0,237.0 818.3,221.3 665.0,380.0 667.0,398.0 457.4,609.5" fill="#fff" stroke="none" stroke-width="1.0" />
<g clip-path="url(#roofclip)">
<line x1="318.8" y1="578.3" x2="711.5" y2="206.2" stroke="#707070" stroke-width="1.7" />
<line x1="321.2" y1="579.2" x2="713.8" y2="206.5" stroke="#9c9c9c" stroke-width="1.15" />
<line x1="325.5" y1="580.8" x2="718.0" y2="207.2" stroke="#707070" stroke-width="1.7" />
<line x1="327.9" y1="581.7" x2="720.3" y2="207.6" stroke="#9c9c9c" stroke-width="1.15" />
<line x1="332.3" y1="583.2" x2="724.5" y2="208.2" stroke="#707070" stroke-width="1.7" />
<line x1="334.7" y1="584.1" x2="726.8" y2="208.6" stroke="#9c9c9c" stroke-width="1.15" />
<line x1="339.0" y1="585.7" x2="730.9" y2="209.3" stroke="#707070" stroke-width="1.7" />
<line x1="341.4" y1="586.6" x2="733.3" y2="209.7" stroke="#9c9c9c" stroke-width="1.15" />
<line x1="345.7" y1="588.2" x2="737.4" y2="210.3" stroke="#707070" stroke-width="1.7" />
<line x1="348.2" y1="589.1" x2="739.8" y2="210.7" stroke="#9c9c9c" stroke-width="1.15" />
<line x1="352.5" y1="590.6" x2="743.9" y2="211.4" stroke="#707070" stroke-width="1.7" />
<line x1="354.9" y1="591.5" x2="746.2" y2="211.7" stroke="#9c9c9c" stroke-width="1.15" />
<line x1="359.2" y1="593.1" x2="750.4" y2="212.4" stroke="#707070" stroke-width="1.7" />
<line x1="361.6" y1="594.0" x2="752.7" y2="212.8" stroke="#9c9c9c" stroke-width="1.15" />
<line x1="365.9" y1="595.6" x2="756.9" y2="213.4" stroke="#707070" stroke-width="1.7" />
<line x1="368.4" y1="596.4" x2="759.2" y2="213.8" stroke="#9c9c9c" stroke-width="1.15" />
<line x1="372.7" y1="598.0" x2="763.3" y2="214.5" stroke="#707070" stroke-width="1.7" />
<line x1="375.1" y1="598.9" x2="765.7" y2="214.9" stroke="#9c9c9c" stroke-width="1.15" />
<line x1="379.4" y1="600.5" x2="769.8" y2="215.5" stroke="#707070" stroke-width="1.7" />
<line x1="381.9" y1="601.4" x2="772.2" y2="215.9" stroke="#9c9c9c" stroke-width="1.15" />
<line x1="386.2" y1="602.9" x2="776.3" y2="216.6" stroke="#707070" stroke-width="1.7" />
<line x1="388.6" y1="603.8" x2="778.6" y2="216.9" stroke="#9c9c9c" stroke-width="1.15" />
<line x1="392.9" y1="605.4" x2="782.8" y2="217.6" stroke="#707070" stroke-width="1.7" />
<line x1="395.3" y1="606.3" x2="785.1" y2="218.0" stroke="#9c9c9c" stroke-width="1.15" />
<line x1="399.6" y1="607.8" x2="789.3" y2="218.6" stroke="#707070" stroke-width="1.7" />
<line x1="402.1" y1="608.7" x2="791.6" y2="219.0" stroke="#9c9c9c" stroke-width="1.15" />
<line x1="406.4" y1="610.3" x2="795.7" y2="219.7" stroke="#707070" stroke-width="1.7" />
<line x1="408.8" y1="611.2" x2="798.1" y2="220.0" stroke="#9c9c9c" stroke-width="1.15" />
<line x1="413.1" y1="612.8" x2="802.2" y2="220.7" stroke="#707070" stroke-width="1.7" />
<line x1="415.5" y1="613.7" x2="804.6" y2="221.1" stroke="#9c9c9c" stroke-width="1.15" />
<line x1="419.9" y1="615.2" x2="808.7" y2="221.8" stroke="#707070" stroke-width="1.7" />
<line x1="422.3" y1="616.1" x2="811.0" y2="222.1" stroke="#9c9c9c" stroke-width="1.15" />
<line x1="426.6" y1="617.7" x2="815.2" y2="222.8" stroke="#707070" stroke-width="1.7" />
<line x1="429.0" y1="618.6" x2="817.5" y2="223.2" stroke="#9c9c9c" stroke-width="1.15" />
<line x1="433.3" y1="620.1" x2="821.7" y2="223.8" stroke="#707070" stroke-width="1.7" />
<line x1="435.8" y1="621.0" x2="824.0" y2="224.2" stroke="#9c9c9c" stroke-width="1.15" />
<line x1="440.1" y1="622.6" x2="828.1" y2="224.9" stroke="#707070" stroke-width="1.7" />
<line x1="442.5" y1="623.5" x2="830.5" y2="225.2" stroke="#9c9c9c" stroke-width="1.15" />
<line x1="446.8" y1="625.1" x2="834.6" y2="225.9" stroke="#707070" stroke-width="1.7" />
<line x1="449.2" y1="625.9" x2="836.9" y2="226.3" stroke="#9c9c9c" stroke-width="1.15" />
<line x1="453.6" y1="627.5" x2="841.1" y2="227.0" stroke="#707070" stroke-width="1.7" />
<line x1="456.0" y1="628.4" x2="843.4" y2="227.3" stroke="#9c9c9c" stroke-width="1.15" />
</g>
<line x1="340.0" y1="567.0" x2="703.5" y2="221.0" stroke="#8a8a8a" stroke-width="1.0" />
<clipPath id="chclip"><polygon points="818.3,221.3 948.0,244.0 796.0,411.0 665.0,380.0"/></clipPath>
<polygon points="818.3,221.3 948.0,244.0 796.0,411.0 665.0,380.0" fill="#fff" stroke="none" stroke-width="1.0" />
<g clip-path="url(#chclip)">
<line x1="644.2" y1="392.7" x2="825.4" y2="205.7" stroke="#707070" stroke-width="1.7" />
<line x1="646.7" y1="393.3" x2="827.8" y2="206.2" stroke="#9c9c9c" stroke-width="1.15" />
<line x1="651.1" y1="394.4" x2="832.2" y2="206.9" stroke="#707070" stroke-width="1.7" />
<line x1="653.6" y1="395.0" x2="834.6" y2="207.3" stroke="#9c9c9c" stroke-width="1.15" />
<line x1="658.0" y1="396.0" x2="839.0" y2="208.1" stroke="#707070" stroke-width="1.7" />
<line x1="660.5" y1="396.6" x2="841.4" y2="208.5" stroke="#9c9c9c" stroke-width="1.15" />
<line x1="664.9" y1="397.7" x2="845.8" y2="209.3" stroke="#707070" stroke-width="1.7" />
<line x1="667.4" y1="398.3" x2="848.3" y2="209.7" stroke="#9c9c9c" stroke-width="1.15" />
<line x1="671.9" y1="399.3" x2="852.6" y2="210.4" stroke="#707070" stroke-width="1.7" />
<line x1="674.3" y1="399.9" x2="855.1" y2="210.9" stroke="#9c9c9c" stroke-width="1.15" />
<line x1="678.8" y1="401.0" x2="859.4" y2="211.6" stroke="#707070" stroke-width="1.7" />
<line x1="681.3" y1="401.6" x2="861.9" y2="212.0" stroke="#9c9c9c" stroke-width="1.15" />
<line x1="685.7" y1="402.7" x2="866.2" y2="212.8" stroke="#707070" stroke-width="1.7" />
<line x1="688.2" y1="403.2" x2="868.7" y2="213.2" stroke="#9c9c9c" stroke-width="1.15" />
<line x1="692.6" y1="404.3" x2="873.0" y2="214.0" stroke="#707070" stroke-width="1.7" />
<line x1="695.1" y1="404.9" x2="875.5" y2="214.4" stroke="#9c9c9c" stroke-width="1.15" />
<line x1="699.5" y1="406.0" x2="879.8" y2="215.1" stroke="#707070" stroke-width="1.7" />
<line x1="702.0" y1="406.6" x2="882.3" y2="215.5" stroke="#9c9c9c" stroke-width="1.15" />
<line x1="706.4" y1="407.6" x2="886.6" y2="216.3" stroke="#707070" stroke-width="1.7" />
<line x1="708.9" y1="408.2" x2="889.1" y2="216.7" stroke="#9c9c9c" stroke-width="1.15" />
<line x1="713.4" y1="409.3" x2="893.4" y2="217.5" stroke="#707070" stroke-width="1.7" />
<line x1="715.9" y1="409.9" x2="895.9" y2="217.9" stroke="#9c9c9c" stroke-width="1.15" />
<line x1="720.3" y1="410.9" x2="900.2" y2="218.6" stroke="#707070" stroke-width="1.7" />
<line x1="722.8" y1="411.5" x2="902.7" y2="219.1" stroke="#9c9c9c" stroke-width="1.15" />
<line x1="727.2" y1="412.6" x2="907.0" y2="219.8" stroke="#707070" stroke-width="1.7" />
<line x1="729.7" y1="413.2" x2="909.5" y2="220.2" stroke="#9c9c9c" stroke-width="1.15" />
<line x1="734.1" y1="414.2" x2="913.8" y2="221.0" stroke="#707070" stroke-width="1.7" />
<line x1="736.6" y1="414.8" x2="916.3" y2="221.4" stroke="#9c9c9c" stroke-width="1.15" />
<line x1="741.0" y1="415.9" x2="920.6" y2="222.2" stroke="#707070" stroke-width="1.7" />
<line x1="743.5" y1="416.5" x2="923.1" y2="222.6" stroke="#9c9c9c" stroke-width="1.15" />
<line x1="748.0" y1="417.5" x2="927.4" y2="223.3" stroke="#707070" stroke-width="1.7" />
<line x1="750.4" y1="418.1" x2="929.9" y2="223.8" stroke="#9c9c9c" stroke-width="1.15" />
<line x1="754.9" y1="419.2" x2="934.2" y2="224.5" stroke="#707070" stroke-width="1.7" />
<line x1="757.4" y1="419.8" x2="936.7" y2="224.9" stroke="#9c9c9c" stroke-width="1.15" />
<line x1="761.8" y1="420.8" x2="941.1" y2="225.7" stroke="#707070" stroke-width="1.7" />
<line x1="764.3" y1="421.4" x2="943.5" y2="226.1" stroke="#9c9c9c" stroke-width="1.15" />
<line x1="768.7" y1="422.5" x2="947.9" y2="226.9" stroke="#707070" stroke-width="1.7" />
<line x1="771.2" y1="423.1" x2="950.3" y2="227.3" stroke="#9c9c9c" stroke-width="1.15" />
<line x1="775.6" y1="424.1" x2="954.7" y2="228.0" stroke="#707070" stroke-width="1.7" />
<line x1="778.1" y1="424.7" x2="957.1" y2="228.5" stroke="#9c9c9c" stroke-width="1.15" />
<line x1="782.5" y1="425.8" x2="961.5" y2="229.2" stroke="#707070" stroke-width="1.7" />
<line x1="785.0" y1="426.4" x2="963.9" y2="229.6" stroke="#9c9c9c" stroke-width="1.15" />
<line x1="789.5" y1="427.4" x2="968.3" y2="230.4" stroke="#707070" stroke-width="1.7" />
<line x1="791.9" y1="428.0" x2="970.7" y2="230.8" stroke="#9c9c9c" stroke-width="1.15" />
</g>
<line x1="818.3" y1="221.3" x2="665.0" y2="380.0" stroke="#8a8a8a" stroke-width="1.0" />
<rect x="339.4" y="566.8" width="3.6" height="3.6" fill="#c8c8c8" stroke="#858585" stroke-width="1.3"/>
<rect x="346.1" y="569.3" width="3.6" height="3.6" fill="#c8c8c8" stroke="#858585" stroke-width="1.3"/>
<rect x="352.8" y="571.7" width="3.6" height="3.6" fill="#c8c8c8" stroke="#858585" stroke-width="1.3"/>
<rect x="359.5" y="574.1" width="3.6" height="3.6" fill="#c8c8c8" stroke="#858585" stroke-width="1.3"/>
<rect x="366.2" y="576.6" width="3.6" height="3.6" fill="#c8c8c8" stroke="#858585" stroke-width="1.3"/>
<rect x="373.0" y="579.0" width="3.6" height="3.6" fill="#c8c8c8" stroke="#858585" stroke-width="1.3"/>
<rect x="379.7" y="581.4" width="3.6" height="3.6" fill="#c8c8c8" stroke="#858585" stroke-width="1.3"/>
<rect x="386.4" y="583.8" width="3.6" height="3.6" fill="#c8c8c8" stroke="#858585" stroke-width="1.3"/>
<rect x="393.1" y="586.3" width="3.6" height="3.6" fill="#c8c8c8" stroke="#858585" stroke-width="1.3"/>
<rect x="399.8" y="588.7" width="3.6" height="3.6" fill="#c8c8c8" stroke="#858585" stroke-width="1.3"/>
<rect x="406.5" y="591.1" width="3.6" height="3.6" fill="#c8c8c8" stroke="#858585" stroke-width="1.3"/>
<rect x="413.2" y="593.6" width="3.6" height="3.6" fill="#c8c8c8" stroke="#858585" stroke-width="1.3"/>
<rect x="419.9" y="596.0" width="3.6" height="3.6" fill="#c8c8c8" stroke="#858585" stroke-width="1.3"/>
<rect x="426.6" y="598.4" width="3.6" height="3.6" fill="#c8c8c8" stroke="#858585" stroke-width="1.3"/>
<rect x="433.3" y="600.8" width="3.6" height="3.6" fill="#c8c8c8" stroke="#858585" stroke-width="1.3"/>
<rect x="440.0" y="603.3" width="3.6" height="3.6" fill="#c8c8c8" stroke="#858585" stroke-width="1.3"/>
<rect x="446.7" y="605.7" width="3.6" height="3.6" fill="#c8c8c8" stroke="#858585" stroke-width="1.3"/>
<rect x="453.5" y="608.1" width="3.6" height="3.6" fill="#c8c8c8" stroke="#858585" stroke-width="1.3"/>
<rect x="703.4" y="219.4" width="2.6" height="2.6" fill="#8a8a8a" stroke="#9a9a9a" stroke-width="0.6"/>
<rect x="709.9" y="220.5" width="2.6" height="2.6" fill="#8a8a8a" stroke="#9a9a9a" stroke-width="0.6"/>
<rect x="716.4" y="221.6" width="2.6" height="2.6" fill="#8a8a8a" stroke="#9a9a9a" stroke-width="0.6"/>
<rect x="722.9" y="222.6" width="2.6" height="2.6" fill="#8a8a8a" stroke="#9a9a9a" stroke-width="0.6"/>
<rect x="729.4" y="223.7" width="2.6" height="2.6" fill="#8a8a8a" stroke="#9a9a9a" stroke-width="0.6"/>
<rect x="735.9" y="224.8" width="2.6" height="2.6" fill="#8a8a8a" stroke="#9a9a9a" stroke-width="0.6"/>
<rect x="742.4" y="225.9" width="2.6" height="2.6" fill="#8a8a8a" stroke="#9a9a9a" stroke-width="0.6"/>
<rect x="748.9" y="226.9" width="2.6" height="2.6" fill="#8a8a8a" stroke="#9a9a9a" stroke-width="0.6"/>
<rect x="755.4" y="228.0" width="2.6" height="2.6" fill="#8a8a8a" stroke="#9a9a9a" stroke-width="0.6"/>
<rect x="761.9" y="229.1" width="2.6" height="2.6" fill="#8a8a8a" stroke="#9a9a9a" stroke-width="0.6"/>
<rect x="768.4" y="230.2" width="2.6" height="2.6" fill="#8a8a8a" stroke="#9a9a9a" stroke-width="0.6"/>
<rect x="774.9" y="231.3" width="2.6" height="2.6" fill="#8a8a8a" stroke="#9a9a9a" stroke-width="0.6"/>
<rect x="781.4" y="232.3" width="2.6" height="2.6" fill="#8a8a8a" stroke="#9a9a9a" stroke-width="0.6"/>
<rect x="787.9" y="233.4" width="2.6" height="2.6" fill="#8a8a8a" stroke="#9a9a9a" stroke-width="0.6"/>
<rect x="794.4" y="234.5" width="2.6" height="2.6" fill="#8a8a8a" stroke="#9a9a9a" stroke-width="0.6"/>
<rect x="818.2" y="219.7" width="2.6" height="2.6" fill="#8a8a8a" stroke="#9a9a9a" stroke-width="0.6"/>
<rect x="825.1" y="220.9" width="2.6" height="2.6" fill="#8a8a8a" stroke="#9a9a9a" stroke-width="0.6"/>
<rect x="831.9" y="222.1" width="2.6" height="2.6" fill="#8a8a8a" stroke="#9a9a9a" stroke-width="0.6"/>
<rect x="838.7" y="223.3" width="2.6" height="2.6" fill="#8a8a8a" stroke="#9a9a9a" stroke-width="0.6"/>
<rect x="845.5" y="224.5" width="2.6" height="2.6" fill="#8a8a8a" stroke="#9a9a9a" stroke-width="0.6"/>
<rect x="852.4" y="225.7" width="2.6" height="2.6" fill="#8a8a8a" stroke="#9a9a9a" stroke-width="0.6"/>
<rect x="859.2" y="226.9" width="2.6" height="2.6" fill="#8a8a8a" stroke="#9a9a9a" stroke-width="0.6"/>
<rect x="866.0" y="228.1" width="2.6" height="2.6" fill="#8a8a8a" stroke="#9a9a9a" stroke-width="0.6"/>
<rect x="872.8" y="229.3" width="2.6" height="2.6" fill="#8a8a8a" stroke="#9a9a9a" stroke-width="0.6"/>
<rect x="879.7" y="230.5" width="2.6" height="2.6" fill="#8a8a8a" stroke="#9a9a9a" stroke-width="0.6"/>
<rect x="886.5" y="231.7" width="2.6" height="2.6" fill="#8a8a8a" stroke="#9a9a9a" stroke-width="0.6"/>
<rect x="893.3" y="232.9" width="2.6" height="2.6" fill="#8a8a8a" stroke="#9a9a9a" stroke-width="0.6"/>
<rect x="900.1" y="234.1" width="2.6" height="2.6" fill="#8a8a8a" stroke="#9a9a9a" stroke-width="0.6"/>
<rect x="907.0" y="235.2" width="2.6" height="2.6" fill="#8a8a8a" stroke="#9a9a9a" stroke-width="0.6"/>
<rect x="913.8" y="236.4" width="2.6" height="2.6" fill="#8a8a8a" stroke="#9a9a9a" stroke-width="0.6"/>
<rect x="920.6" y="237.6" width="2.6" height="2.6" fill="#8a8a8a" stroke="#9a9a9a" stroke-width="0.6"/>
<rect x="927.4" y="238.8" width="2.6" height="2.6" fill="#8a8a8a" stroke="#9a9a9a" stroke-width="0.6"/>
<rect x="934.3" y="240.0" width="2.6" height="2.6" fill="#8a8a8a" stroke="#9a9a9a" stroke-width="0.6"/>
<rect x="941.1" y="241.2" width="2.6" height="2.6" fill="#8a8a8a" stroke="#9a9a9a" stroke-width="0.6"/>
<rect x="664.6" y="379.7" width="3.2" height="3.2" fill="#8a8a8a" stroke="#9a9a9a" stroke-width="0.6"/>
<rect x="671.5" y="381.3" width="3.2" height="3.2" fill="#8a8a8a" stroke="#9a9a9a" stroke-width="0.6"/>
<rect x="678.4" y="383.0" width="3.2" height="3.2" fill="#8a8a8a" stroke="#9a9a9a" stroke-width="0.6"/>
<rect x="685.3" y="384.6" width="3.2" height="3.2" fill="#8a8a8a" stroke="#9a9a9a" stroke-width="0.6"/>
<rect x="692.2" y="386.2" width="3.2" height="3.2" fill="#8a8a8a" stroke="#9a9a9a" stroke-width="0.6"/>
<rect x="699.1" y="387.9" width="3.2" height="3.2" fill="#8a8a8a" stroke="#9a9a9a" stroke-width="0.6"/>
<rect x="706.0" y="389.5" width="3.2" height="3.2" fill="#8a8a8a" stroke="#9a9a9a" stroke-width="0.6"/>
<rect x="712.9" y="391.1" width="3.2" height="3.2" fill="#8a8a8a" stroke="#9a9a9a" stroke-width="0.6"/>
<rect x="719.8" y="392.7" width="3.2" height="3.2" fill="#8a8a8a" stroke="#9a9a9a" stroke-width="0.6"/>
<rect x="726.7" y="394.4" width="3.2" height="3.2" fill="#8a8a8a" stroke="#9a9a9a" stroke-width="0.6"/>
<rect x="733.6" y="396.0" width="3.2" height="3.2" fill="#8a8a8a" stroke="#9a9a9a" stroke-width="0.6"/>
<rect x="740.5" y="397.6" width="3.2" height="3.2" fill="#8a8a8a" stroke="#9a9a9a" stroke-width="0.6"/>
<rect x="747.4" y="399.3" width="3.2" height="3.2" fill="#8a8a8a" stroke="#9a9a9a" stroke-width="0.6"/>
<rect x="754.3" y="400.9" width="3.2" height="3.2" fill="#8a8a8a" stroke="#9a9a9a" stroke-width="0.6"/>
<rect x="761.2" y="402.5" width="3.2" height="3.2" fill="#8a8a8a" stroke="#9a9a9a" stroke-width="0.6"/>
<rect x="768.1" y="404.2" width="3.2" height="3.2" fill="#8a8a8a" stroke="#9a9a9a" stroke-width="0.6"/>
<rect x="775.0" y="405.8" width="3.2" height="3.2" fill="#8a8a8a" stroke="#9a9a9a" stroke-width="0.6"/>
<rect x="781.9" y="407.4" width="3.2" height="3.2" fill="#8a8a8a" stroke="#9a9a9a" stroke-width="0.6"/>
<rect x="788.7" y="409.1" width="3.2" height="3.2" fill="#8a8a8a" stroke="#9a9a9a" stroke-width="0.6"/>
<line x1="665.0" y1="380.0" x2="796.0" y2="411.0" stroke="#8a8a8a" stroke-width="1.4" />
<line x1="876.0" y1="189.0" x2="876.0" y2="221.0" stroke="#8a8a8a" stroke-width="2" />
<line x1="882.3" y1="189.0" x2="882.3" y2="221.0" stroke="#8a8a8a" stroke-width="2" />
<polyline points="817.0,222.0 891.0,201.6 963.0,212.5" fill="none" stroke="#8a8a8a" stroke-width="2.2" />
<line x1="862.0" y1="223.0" x2="891.0" y2="201.6" stroke="#9a9a9a" stroke-width="1.2" />
<polygon points="752.5,171.0 883.0,141.6 963.0,149.7 963.0,185.5 928.0,195.3" fill="#fff" stroke="none" stroke-width="1.0" />
<polyline points="963.0,149.7 883.0,141.6 752.5,171.0 928.0,195.3 963.0,185.5" fill="none" stroke="#8a8a8a" stroke-width="2.4" />
<line x1="755.0" y1="174.0" x2="928.0" y2="198.5" stroke="#a0a0a0" stroke-width="1.4" />
<circle cx="754" cy="174" r="1.5" fill="#f0c060"/>
<polygon points="388.0,591.0 612.0,677.0 612.0,703.0 565.0,703.0 570.0,797.0 520.0,800.0 420.0,785.0 400.0,611.0" fill="#fff" stroke="none" stroke-width="1.0" />
<line x1="385.5" y1="592.0" x2="612.0" y2="677.5" stroke="#8a8a8a" stroke-width="1.8" />
<line x1="392.0" y1="607.0" x2="612.0" y2="686.0" stroke="#8a8a8a" stroke-width="1.8" />
<polyline points="386.0,591.0 382.0,600.0 388.0,604.0 392.0,607.0" fill="none" stroke="#e8a53a" stroke-width="1.4" />
<line x1="437.0" y1="612.0" x2="441.0" y2="622.0" stroke="#e8c060" stroke-width="1" />
<line x1="400.5" y1="611.0" x2="419.0" y2="780.0" stroke="#8f8f8f" stroke-width="2" />
<line x1="406.0" y1="613.0" x2="424.5" y2="781.0" stroke="#c0c0c0" stroke-width="1" />
<polygon points="430.0,620.0 457.0,629.0 471.0,781.0 444.0,783.0" fill="url(#graycol)" stroke="#8a8a8a" stroke-width="1" />
<line x1="431.0" y1="631.8" x2="458.0" y2="637.8" stroke="#7a7a7a" stroke-width="2.8" />
<line x1="432.7" y1="651.4" x2="459.7" y2="657.4" stroke="#7a7a7a" stroke-width="2.8" />
<line x1="434.4" y1="671.1" x2="461.4" y2="677.1" stroke="#7a7a7a" stroke-width="2.8" />
<line x1="436.1" y1="690.7" x2="463.1" y2="696.7" stroke="#7a7a7a" stroke-width="2.8" />
<line x1="437.8" y1="710.3" x2="464.8" y2="716.3" stroke="#7a7a7a" stroke-width="2.8" />
<line x1="439.4" y1="730.0" x2="466.4" y2="736.0" stroke="#7a7a7a" stroke-width="2.8" />
<line x1="441.1" y1="749.6" x2="468.1" y2="755.6" stroke="#7a7a7a" stroke-width="2.8" />
<line x1="442.8" y1="769.3" x2="469.8" y2="775.3" stroke="#7a7a7a" stroke-width="2.8" />
<line x1="458.0" y1="630.0" x2="471.5" y2="782.0" stroke="#e8a040" stroke-width="1.4" />
<line x1="466.0" y1="631.0" x2="478.0" y2="790.0" stroke="#9a9a9a" stroke-width="1.5" />
<line x1="471.0" y1="633.0" x2="483.0" y2="790.0" stroke="#b0b0b0" stroke-width="1.2" />
<line x1="476.0" y1="640.0" x2="512.0" y2="652.0" stroke="#707070" stroke-width="1.5" />
<line x1="476.0" y1="654.5" x2="512.0" y2="666.5" stroke="#707070" stroke-width="1.5" />
<line x1="476.0" y1="669.0" x2="512.0" y2="681.0" stroke="#707070" stroke-width="1.5" />
<line x1="476.0" y1="683.5" x2="512.0" y2="695.5" stroke="#707070" stroke-width="1.5" />
<line x1="476.0" y1="698.0" x2="512.0" y2="710.0" stroke="#707070" stroke-width="1.5" />
<line x1="476.0" y1="712.5" x2="512.0" y2="724.5" stroke="#707070" stroke-width="1.5" />
<line x1="476.0" y1="727.0" x2="512.0" y2="739.0" stroke="#707070" stroke-width="1.5" />
<line x1="476.0" y1="741.5" x2="512.0" y2="753.5" stroke="#707070" stroke-width="1.5" />
<line x1="476.0" y1="756.0" x2="512.0" y2="768.0" stroke="#707070" stroke-width="1.5" />
<line x1="476.0" y1="770.5" x2="512.0" y2="782.5" stroke="#707070" stroke-width="1.5" />
<line x1="540.0" y1="706.0" x2="566.0" y2="714.0" stroke="#8a8a8a" stroke-width="1.2" />
<line x1="540.0" y1="720.0" x2="566.0" y2="728.0" stroke="#8a8a8a" stroke-width="1.2" />
<line x1="540.0" y1="734.0" x2="566.0" y2="742.0" stroke="#8a8a8a" stroke-width="1.2" />
<line x1="540.0" y1="748.0" x2="566.0" y2="756.0" stroke="#8a8a8a" stroke-width="1.2" />
<line x1="540.0" y1="762.0" x2="566.0" y2="770.0" stroke="#8a8a8a" stroke-width="1.2" />
<line x1="540.0" y1="776.0" x2="566.0" y2="784.0" stroke="#8a8a8a" stroke-width="1.2" />
<line x1="540.0" y1="790.0" x2="566.0" y2="798.0" stroke="#8a8a8a" stroke-width="1.2" />
<path d="M473,636 L492,643 Q499,652 493,662 Q499,672 492,684 L474,679 Q470,668 475,660 Q469,648 473,636 Z" fill="url(#stip)" stroke="#8a8a8a" stroke-width="1.4"/>
<line x1="476.0" y1="660.0" x2="493.0" y2="664.0" stroke="#8a8a8a" stroke-width="1.2" />
<path d="M513,697 L536,703 Q543,712 536,722 Q544,733 536,743 Q544,754 537,764 Q545,776 538,792 L517,786 Q513,770 516,755 Q512,740 515,725 Q511,712 513,697 Z" fill="url(#stip)" stroke="#8a8a8a" stroke-width="1.4"/>
<line x1="516.0" y1="721.0" x2="537.0" y2="723.0" stroke="#8a8a8a" stroke-width="1.2" />
<line x1="516.0" y1="741.0" x2="537.0" y2="743.0" stroke="#8a8a8a" stroke-width="1.2" />
<line x1="516.0" y1="762.0" x2="537.0" y2="764.0" stroke="#8a8a8a" stroke-width="1.2" />
<line x1="510.5" y1="703.0" x2="519.5" y2="793.0" stroke="#9a9a9a" stroke-width="1.6" />
<polygon points="511.8,650.8 564.5,669.7 564.5,700.3 512.9,683.4" fill="#c3e4f6" stroke="#8f8f8f" stroke-width="1.4" />
<line x1="513.0" y1="652.0" x2="514.0" y2="683.0" stroke="#9a9a9a" stroke-width="1.2" />
<line x1="518.0" y1="654.0" x2="519.0" y2="685.0" stroke="#b0b0b0" stroke-width="1" />
<line x1="527.0" y1="688.0" x2="562.0" y2="668.0" stroke="#34506a" stroke-width="0.9" />
<line x1="542.0" y1="692.0" x2="564.0" y2="680.0" stroke="#34506a" stroke-width="0.9" />
<line x1="551.0" y1="695.0" x2="564.0" y2="689.0" stroke="#34506a" stroke-width="0.9" />
<line x1="493.0" y1="678.0" x2="564.5" y2="702.0" stroke="#8a8a8a" stroke-width="1.6" />
<polygon points="565.0,671.0 612.0,687.0 612.0,700.0 565.0,703.0" fill="url(#stip)" stroke="none" stroke-width="1.0" />
<line x1="577.0" y1="676.0" x2="577.0" y2="700.0" stroke="#c9a070" stroke-width="1" />
<line x1="585.0" y1="679.0" x2="585.0" y2="700.0" stroke="#c9a070" stroke-width="1" />
<line x1="565.0" y1="703.0" x2="612.0" y2="688.0" stroke="#a04a2a" stroke-width="1" />
<line x1="565.5" y1="672.0" x2="570.0" y2="797.0" stroke="#8c8c8c" stroke-width="1.8" />
<line x1="568.5" y1="673.0" x2="573.0" y2="796.0" stroke="#b8b8b8" stroke-width="1" />
<line x1="519.6" y1="789.0" x2="570.0" y2="797.0" stroke="#9a9a9a" stroke-width="1.4" />
<polygon points="458.0,788.0 483.0,778.0 507.0,786.0 483.0,797.0" fill="#fff" stroke="#8a8a8a" stroke-width="1.4" />
<polygon points="483.0,797.0 507.0,786.0 507.0,801.0 483.0,812.0" fill="#fff" stroke="#8a8a8a" stroke-width="1.4" />
<line x1="470.0" y1="783.0" x2="495.0" y2="792.0" stroke="#b5b5b5" stroke-width="0.9" />
<polygon points="450.0,783.0 483.0,796.0 483.0,812.0 450.0,799.0" fill="#fff" stroke="#e0703a" stroke-width="2.2" />
<line x1="466.0" y1="789.0" x2="466.0" y2="806.0" stroke="#e0703a" stroke-width="1.8" />
<line x1="458.0" y1="790.0" x2="458.0" y2="802.0" stroke="#e0703a" stroke-width="1.1" />
<line x1="474.0" y1="794.0" x2="474.0" y2="808.0" stroke="#e0703a" stroke-width="1.1" />
<line x1="537.0" y1="783.0" x2="572.0" y2="797.0" stroke="#8a8a8a" stroke-width="1.8" />
<polyline points="258.3,257.8 277.2,257.8 528.0,669.0" fill="none" stroke="#1e1e1e" stroke-width="1.3" />
<polyline points="258.4,360.2 276.9,360.2 409.4,626.0" fill="none" stroke="#1e1e1e" stroke-width="1.3" />
<polyline points="254.0,471.0 273.0,471.0 449.4,703.0" fill="none" stroke="#1e1e1e" stroke-width="1.3" />
<polyline points="285.5,599.7 304.0,599.7 497.0,758.0" fill="none" stroke="#1e1e1e" stroke-width="1.3" />
<polyline points="254.3,722.3 273.7,722.3 557.0,776.0" fill="none" stroke="#1e1e1e" stroke-width="1.3" />
</g>
<polyline points="1017.6,138.4 989.0,138.4 861.7,269.6" fill="none" stroke="#1e1e1e" stroke-width="1.3" />
<polyline points="1016.0,242.0 989.0,242.0 590.0,396.8" fill="none" stroke="#1e1e1e" stroke-width="1.3" />
<polyline points="1015.8,338.2 988.0,338.2 850.7,384.0" fill="none" stroke="#1e1e1e" stroke-width="1.3" />
<polyline points="1015.8,460.7 988.0,460.7 784.5,496.0" fill="none" stroke="#1e1e1e" stroke-width="1.3" />
<polyline points="1015.8,556.3 988.0,556.3 792.4,641.4" fill="none" stroke="#1e1e1e" stroke-width="1.3" />
<polyline points="1015.6,698.4 986.2,698.4 809.0,735.0" fill="none" stroke="#1e1e1e" stroke-width="1.3" />
<polyline points="1015.6,765.3 986.2,765.3 823.3,774.6" fill="none" stroke="#1e1e1e" stroke-width="1.3" />
<polyline points="1015.6,841.4 986.0,841.4 793.4,848.0" fill="none" stroke="#1e1e1e" stroke-width="1.3" /></svg>
<div class="t" style="left:21.8px;top:222.4px"><b>Window layer:</b><br>glass window,<br>plexiglass or transparent or<br>thick plastic foils on multiple layers,<br>Architect‘s choice</div><div class="t" style="left:21.3px;top:351.2px"><b>Walls outer layer:</b><br>waterproof chip board or<br>marine MDF,<br>Architect‘s choice</div><div class="t" style="left:21.8px;top:462.4px"><b>Insulation outside layer:</b><br>goat fur or strew filled in 10 cm gap<br>between the bearthbag and outer<br>finish layer, or plastic packaging bubbles<br>or polystyrene also around 10 cm<br>thickness</div><div class="t" style="left:24.1px;top:594.7px"><b>Earth bag layer:</b><br>compacted and rammed even between<br>the trusses, air gaps and metal avoided<br>as much as possible because of bridges<br>and condensation</div><div class="t" style="left:27.1px;top:712.8px"><b>Inside finishing layer:</b><br>white mortar or gypsum or earth,<br>but no wood</div><div class="t" style="left:1027.1px;top:131.9px"><b>Roof upper layer for chimney:</b><br>corrugated galvanized sheets</div><div class="t" style="left:1027.1px;top:233.4px"><b>Roof upper layer:</b><br>reflective corrugated galvanized<br>sheets or bright fabric membrane<br>to shade roof,<br>Architect‘s choice</div><div class="t" style="left:1027.1px;top:329.9px"><b>Solar chimney:</b><br>10 square meters of area, 20 cm in<br>height, base can be directly the<br>insulated roof</div><div class="t" style="left:1027.1px;top:451.6px"><b>Roof lower layer:</b><br>insulating lightweight material,<br>wheat or organic stacks</div><div class="t" style="left:1027.1px;top:549.6px"><b>Finish material for ground:</b><br>stacked gravel, stone, ceramic, clay or<br>earth-like material</div><div class="t" style="left:1026.3px;top:690.4px"><b>Filling between ducts:</b><br>rammed earth or sand</div><div class="t" style="left:1027.0px;top:758.4px"><b>Ventilation ducts:</b><br>Hourdi units or CMU or<br>clay tubes</div><div class="t" style="left:1027.0px;top:831.8px"><b>Base for construction:</b><br>rammed earth or insulation material<br>of separation from ground</div>
</body></html>
